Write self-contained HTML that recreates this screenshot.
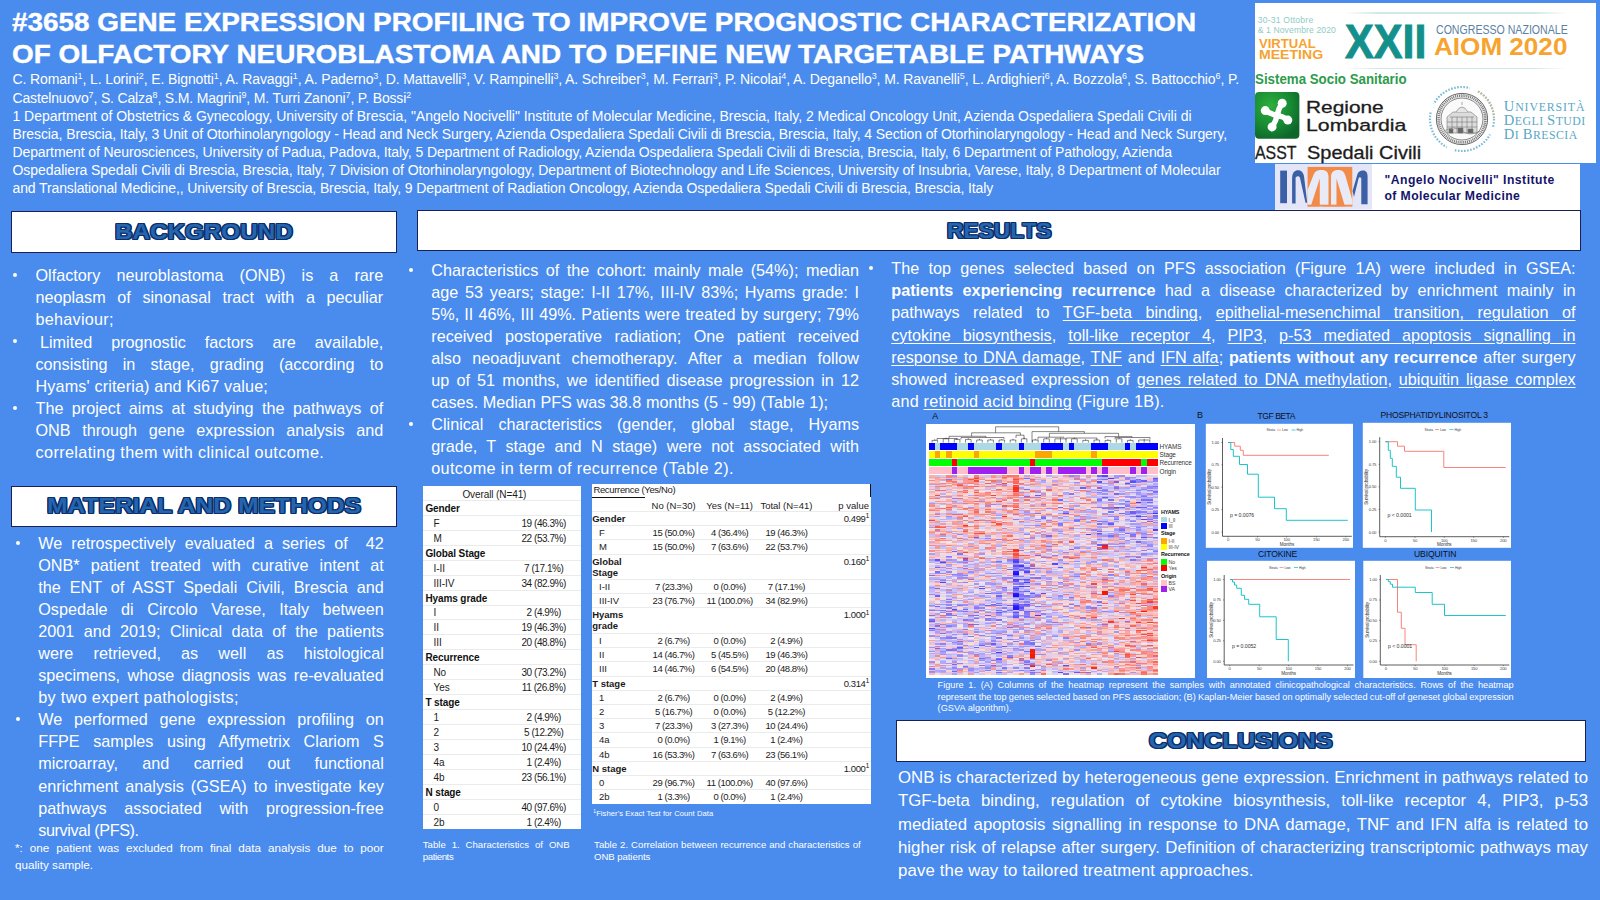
<!DOCTYPE html>
<html><head><meta charset="utf-8"><title>Poster 3658</title>
<style>
html,body{margin:0;padding:0}
body{width:1600px;height:900px;overflow:hidden;background:#4a8bee;position:relative;font-family:"Liberation Sans",sans-serif}
.t{position:absolute;white-space:nowrap;color:#fff}
.t sup{font-size:64%;vertical-align:baseline;position:relative;top:-0.6em;line-height:0}
.bx{position:absolute;background:#fff;border:1.5px solid #1b1f55;box-sizing:border-box}
.bu{position:absolute;width:4px;height:4px;border-radius:2px;background:#fff}
.a{position:absolute}
u{text-decoration-thickness:1px;text-underline-offset:2px}
</style></head>
<body>
<div class="a" style="left:1255px;top:3px;width:341.3px;height:159.8px;background:#fff"></div>
<div class="a" style="left:1274.8px;top:164.2px;width:305.2px;height:47px;background:#fff"></div>
<svg class="a" style="left:1274.8px;top:164.2px" width="97.2" height="45.6" viewBox="0 0 97.2 45.6"><rect width="97.2" height="45.6" fill="#e4e6f8"/><rect x="5.2" y="6.6" width="6.8" height="32.6" fill="#3b60a6"/><path d="M17.1 39.4V14.5C17.1 8 20 6.2 23 6.2C26.5 6.2 28.2 8.5 29 12L32.2 38.8L30.5 38.8L25 14C24.4 12 22.3 11.8 20.6 13.6V39.4Z" fill="#3b60a6"/><rect x="32.6" y="2.9" width="44.7" height="39.6" fill="#f28a48"/><path d="M32.6 26L38.5 11C40 7 42.5 5.9 46.5 5.9C51.5 5.9 53.5 8.5 53.5 13V41.5L50 41.5Q46 44 42 41.5L44.8 41.5L44.8 14.5L36 41.5L32.6 41.5Z" fill="#e9eaf7"/><path d="M56 41.5V13C56 8.5 58.5 5.9 63 5.9C67.5 5.9 69.5 8 70.5 12L77.3 36V42.5L70 42.5L61.5 14.5L61.5 41.5Z" fill="#e9eaf7"/><rect x="32.6" y="40.7" width="44.7" height="1.8" fill="#f28a48"/><path d="M77.6 27L82.2 11C83.3 7.5 85.5 6.6 88 6.6C91.5 6.6 92.6 9 92.6 13V40.3H86.3V14.5C85.5 12.6 84.2 12.8 83.6 14.5L79 33Z" fill="#3b60a6"/></svg>
<div class="a" style="left:1345px;top:12.4px;width:222px;height:1.6px;background:linear-gradient(90deg,#fff,#cfe9e6 15%,#cfe9e6 85%,#fff)"></div>
<div class="a" style="left:1345px;top:67.8px;width:222px;height:1.6px;background:linear-gradient(90deg,#fff,#cfe9e6 15%,#cfe9e6 85%,#fff)"></div>
<svg class="a" style="left:1255.4px;top:92.3px" width="44.4" height="46.8" viewBox="0 0 44.4 46.8"><defs><radialGradient id="rg" cx="35%" cy="30%" r="75%"><stop offset="0" stop-color="#2fae3e"/><stop offset="0.6" stop-color="#188a33"/><stop offset="1" stop-color="#0d672b"/></radialGradient></defs><rect width="44.4" height="46.8" rx="4" fill="url(#rg)"/><g stroke="#fff" stroke-width="5.4" stroke-linecap="round" fill="none"><path d="M22.2 23.6Q23 17 27.2 11.3"/><path d="M22.2 23.6Q16 22 10.3 18.6"/><path d="M22.2 23.6Q28 24 32.8 28.1"/><path d="M22.2 23.6Q21 29 17.1 34.9"/></g><g fill="#fff"><circle cx="27.2" cy="11.3" r="4.5"/><circle cx="10.3" cy="18.6" r="4.5"/><circle cx="32.8" cy="28.1" r="4.5"/><circle cx="17.1" cy="34.9" r="4.5"/><circle cx="22.2" cy="23.6" r="3.8"/></g></svg>
<svg class="a" style="left:1425.5px;top:82.9px" width="72" height="72" viewBox="-36 -36 72 72"><circle r="32" fill="none" stroke="#7bbbd8" stroke-width="2.2" stroke-dasharray="1.6 1.5"/><circle r="32" fill="none" stroke="#fff" stroke-width="3" stroke-dasharray="8 42" transform="rotate(-75)"/><circle r="32" fill="none" stroke="#c9b98f" stroke-width="2" stroke-dasharray="1.5 1.6 1.5 1.6 1.5 1.6 1.5 1.6 1.5 1.6 1.5 1.6 1.5 1.6 1.5 1.6 1.5 1.6 1.5 1.6 1.5 200" transform="rotate(-60)"/><circle r="25.6" fill="#f4f4f4" stroke="#666" stroke-width="1"/><circle r="23.4" fill="none" stroke="#777" stroke-width="2.6" stroke-dasharray="1.0 0.9"/><circle r="21" fill="#fafafa" stroke="#555" stroke-width="0.7"/><g stroke="#777" stroke-width="0.6" fill="none"><path d="M-15 14L-15 -2L-9 -7L9 -7L15 -2L15 14Z" fill="#dcdcdc"/><path d="M-6 -7Q0 -17 6 -7" fill="#e6e6e6"/><path d="M0 -17V-14"/><path d="M-15 3H15M-15 8H15M-10 -2V14M-5 -2V14M0 -2V14M5 -2V14M10 -2V14"/><path d="M-18 12Q-8 6 0 12T18 12" /><path d="M-12 -2H12"/><path d="M-13 10h4v4h-4zM-4 9h5v5h-5zM6 10h5v4h-5z" fill="#666"/></g></svg>
<div class="bx" style="left:11px;top:210.5px;width:386px;height:42.0px"></div>
<div class="bx" style="left:11px;top:486px;width:386px;height:40.5px"></div>
<div class="bx" style="left:417px;top:210px;width:1163.5px;height:41px"></div>
<div class="bx" style="left:895.5px;top:720px;width:690.0px;height:41.5px"></div>
<div class="bu" style="left:13.00px;top:272.99px"></div>
<div class="bu" style="left:13.00px;top:339.47px"></div>
<div class="bu" style="left:13.00px;top:405.95px"></div>
<div class="bu" style="left:16.00px;top:541.14px"></div>
<div class="bu" style="left:16.00px;top:717.30px"></div>
<div class="bu" style="left:408.75px;top:267.99px"></div>
<div class="bu" style="left:408.75px;top:421.57px"></div>
<div class="bu" style="left:868.75px;top:265.99px"></div>
<div class="a" style="left:422.6px;top:485.6px;width:158.1px;height:343.4px;background:#fff"></div>
<div class="a" style="left:422.6px;top:500.03px;width:158.1px;height:1px;background:#ebebeb"></div>
<div class="a" style="left:422.6px;top:514.96px;width:158.1px;height:1px;background:#ebebeb"></div>
<div class="a" style="left:422.6px;top:529.89px;width:158.1px;height:1px;background:#ebebeb"></div>
<div class="a" style="left:422.6px;top:544.82px;width:158.1px;height:1px;background:#ebebeb"></div>
<div class="a" style="left:422.6px;top:559.75px;width:158.1px;height:1px;background:#ebebeb"></div>
<div class="a" style="left:422.6px;top:574.68px;width:158.1px;height:1px;background:#ebebeb"></div>
<div class="a" style="left:422.6px;top:589.61px;width:158.1px;height:1px;background:#ebebeb"></div>
<div class="a" style="left:422.6px;top:604.54px;width:158.1px;height:1px;background:#ebebeb"></div>
<div class="a" style="left:422.6px;top:619.47px;width:158.1px;height:1px;background:#ebebeb"></div>
<div class="a" style="left:422.6px;top:634.40px;width:158.1px;height:1px;background:#ebebeb"></div>
<div class="a" style="left:422.6px;top:649.33px;width:158.1px;height:1px;background:#ebebeb"></div>
<div class="a" style="left:422.6px;top:664.27px;width:158.1px;height:1px;background:#ebebeb"></div>
<div class="a" style="left:422.6px;top:679.20px;width:158.1px;height:1px;background:#ebebeb"></div>
<div class="a" style="left:422.6px;top:694.13px;width:158.1px;height:1px;background:#ebebeb"></div>
<div class="a" style="left:422.6px;top:709.06px;width:158.1px;height:1px;background:#ebebeb"></div>
<div class="a" style="left:422.6px;top:723.99px;width:158.1px;height:1px;background:#ebebeb"></div>
<div class="a" style="left:422.6px;top:738.92px;width:158.1px;height:1px;background:#ebebeb"></div>
<div class="a" style="left:422.6px;top:753.85px;width:158.1px;height:1px;background:#ebebeb"></div>
<div class="a" style="left:422.6px;top:768.78px;width:158.1px;height:1px;background:#ebebeb"></div>
<div class="a" style="left:422.6px;top:783.71px;width:158.1px;height:1px;background:#ebebeb"></div>
<div class="a" style="left:422.6px;top:798.64px;width:158.1px;height:1px;background:#ebebeb"></div>
<div class="a" style="left:422.6px;top:813.57px;width:158.1px;height:1px;background:#ebebeb"></div>
<div class="a" style="left:592.0px;top:484.0px;width:278.6px;height:320.0px;background:#fff"></div>
<div class="a" style="left:592.0px;top:496.8px;width:53.4px;height:1.2px;background:#111"></div>
<div class="a" style="left:869.5px;top:484px;width:1.1px;height:13px;background:#111"></div>
<div class="a" style="left:592.0px;top:510.90px;width:278.6px;height:1px;background:#ebebeb"></div>
<div class="a" style="left:592.0px;top:525.10px;width:278.6px;height:1px;background:#ebebeb"></div>
<div class="a" style="left:592.0px;top:539.30px;width:278.6px;height:1px;background:#ebebeb"></div>
<div class="a" style="left:592.0px;top:553.50px;width:278.6px;height:1px;background:#ebebeb"></div>
<div class="a" style="left:592.0px;top:579.00px;width:278.6px;height:1px;background:#ebebeb"></div>
<div class="a" style="left:592.0px;top:593.20px;width:278.6px;height:1px;background:#ebebeb"></div>
<div class="a" style="left:592.0px;top:607.40px;width:278.6px;height:1px;background:#ebebeb"></div>
<div class="a" style="left:592.0px;top:632.90px;width:278.6px;height:1px;background:#ebebeb"></div>
<div class="a" style="left:592.0px;top:647.10px;width:278.6px;height:1px;background:#ebebeb"></div>
<div class="a" style="left:592.0px;top:661.30px;width:278.6px;height:1px;background:#ebebeb"></div>
<div class="a" style="left:592.0px;top:675.50px;width:278.6px;height:1px;background:#ebebeb"></div>
<div class="a" style="left:592.0px;top:689.70px;width:278.6px;height:1px;background:#ebebeb"></div>
<div class="a" style="left:592.0px;top:703.90px;width:278.6px;height:1px;background:#ebebeb"></div>
<div class="a" style="left:592.0px;top:718.10px;width:278.6px;height:1px;background:#ebebeb"></div>
<div class="a" style="left:592.0px;top:732.30px;width:278.6px;height:1px;background:#ebebeb"></div>
<div class="a" style="left:592.0px;top:746.50px;width:278.6px;height:1px;background:#ebebeb"></div>
<div class="a" style="left:592.0px;top:760.70px;width:278.6px;height:1px;background:#ebebeb"></div>
<div class="a" style="left:592.0px;top:774.90px;width:278.6px;height:1px;background:#ebebeb"></div>
<div class="a" style="left:592.0px;top:789.10px;width:278.6px;height:1px;background:#ebebeb"></div>
<div class="a" style="left:926px;top:424.2px;width:269px;height:253.6px;background:#fff"></div>
<svg class="a" style="left:0;top:0" width="1600" height="900" viewBox="0 0 1600 900" shape-rendering="crispEdges"><rect x="929.20" y="442.8" width="5.64" height="7.4" fill="#0000ff"/><rect x="934.79" y="442.8" width="5.64" height="7.4" fill="#add8e6"/><rect x="940.37" y="442.8" width="16.81" height="7.4" fill="#0000ff"/><rect x="957.13" y="442.8" width="11.22" height="7.4" fill="#add8e6"/><rect x="968.30" y="442.8" width="5.64" height="7.4" fill="#0000ff"/><rect x="973.88" y="442.8" width="22.39" height="7.4" fill="#add8e6"/><rect x="996.22" y="442.8" width="5.64" height="7.4" fill="#0000ff"/><rect x="1001.81" y="442.8" width="16.81" height="7.4" fill="#add8e6"/><rect x="1018.57" y="442.8" width="5.64" height="7.4" fill="#0000ff"/><rect x="1024.15" y="442.8" width="16.81" height="7.4" fill="#add8e6"/><rect x="1040.91" y="442.8" width="22.39" height="7.4" fill="#0000ff"/><rect x="1063.25" y="442.8" width="5.64" height="7.4" fill="#add8e6"/><rect x="1068.83" y="442.8" width="5.64" height="7.4" fill="#0000ff"/><rect x="1074.42" y="442.8" width="16.81" height="7.4" fill="#add8e6"/><rect x="1091.18" y="442.8" width="16.81" height="7.4" fill="#0000ff"/><rect x="1107.93" y="442.8" width="16.81" height="7.4" fill="#add8e6"/><rect x="1124.69" y="442.8" width="5.64" height="7.4" fill="#0000ff"/><rect x="1130.27" y="442.8" width="5.64" height="7.4" fill="#add8e6"/><rect x="1135.86" y="442.8" width="22.39" height="7.4" fill="#0000ff"/><rect x="929.20" y="451.1" width="5.64" height="7.1" fill="#ffff00"/><rect x="934.79" y="451.1" width="5.64" height="7.1" fill="#ffa500"/><rect x="940.37" y="451.1" width="5.64" height="7.1" fill="#ffff00"/><rect x="945.96" y="451.1" width="5.64" height="7.1" fill="#ffa500"/><rect x="951.54" y="451.1" width="22.39" height="7.1" fill="#ffff00"/><rect x="973.88" y="451.1" width="5.64" height="7.1" fill="#ffa500"/><rect x="979.47" y="451.1" width="55.90" height="7.1" fill="#ffff00"/><rect x="1035.32" y="451.1" width="16.81" height="7.1" fill="#ffa500"/><rect x="1052.08" y="451.1" width="39.15" height="7.1" fill="#ffff00"/><rect x="1091.18" y="451.1" width="5.64" height="7.1" fill="#ffa500"/><rect x="1096.76" y="451.1" width="61.49" height="7.1" fill="#ffff00"/><rect x="929.20" y="459.1" width="22.39" height="7.1" fill="#00ff00"/><rect x="951.54" y="459.1" width="5.64" height="7.1" fill="#ff0000"/><rect x="957.13" y="459.1" width="72.66" height="7.1" fill="#00ff00"/><rect x="1029.74" y="459.1" width="5.64" height="7.1" fill="#ff0000"/><rect x="1035.32" y="459.1" width="67.07" height="7.1" fill="#00ff00"/><rect x="1102.35" y="459.1" width="39.15" height="7.1" fill="#ff0000"/><rect x="1141.44" y="459.1" width="5.64" height="7.1" fill="#00ff00"/><rect x="1147.03" y="459.1" width="11.22" height="7.1" fill="#ff0000"/><rect x="929.20" y="466.9" width="22.39" height="7.0" fill="#ffc0cb"/><rect x="951.54" y="466.9" width="5.64" height="7.0" fill="#a020f0"/><rect x="957.13" y="466.9" width="11.22" height="7.0" fill="#ffc0cb"/><rect x="968.30" y="466.9" width="39.15" height="7.0" fill="#a020f0"/><rect x="1007.40" y="466.9" width="11.22" height="7.0" fill="#ffc0cb"/><rect x="1018.57" y="466.9" width="5.64" height="7.0" fill="#a020f0"/><rect x="1024.15" y="466.9" width="5.64" height="7.0" fill="#ffc0cb"/><rect x="1029.74" y="466.9" width="11.22" height="7.0" fill="#a020f0"/><rect x="1040.91" y="466.9" width="5.64" height="7.0" fill="#ffc0cb"/><rect x="1046.49" y="466.9" width="5.64" height="7.0" fill="#a020f0"/><rect x="1052.08" y="466.9" width="5.64" height="7.0" fill="#ffc0cb"/><rect x="1057.66" y="466.9" width="27.98" height="7.0" fill="#a020f0"/><rect x="1085.59" y="466.9" width="5.64" height="7.0" fill="#ffc0cb"/><rect x="1091.18" y="466.9" width="5.64" height="7.0" fill="#a020f0"/><rect x="1096.76" y="466.9" width="5.64" height="7.0" fill="#ffc0cb"/><rect x="1102.35" y="466.9" width="5.64" height="7.0" fill="#a020f0"/><rect x="1107.93" y="466.9" width="22.39" height="7.0" fill="#ffc0cb"/><rect x="1130.27" y="466.9" width="5.64" height="7.0" fill="#a020f0"/><rect x="1135.86" y="466.9" width="5.64" height="7.0" fill="#ffc0cb"/><rect x="1141.44" y="466.9" width="5.64" height="7.0" fill="#a020f0"/><rect x="1147.03" y="466.9" width="11.22" height="7.0" fill="#ffc0cb"/><g transform="translate(929.2,475.5) scale(5.5854,1.1988) translate(0,.5)" fill="none" stroke-width="1.02"><path stroke="#f8b0a8" d="M0 0h1M12 0h1M4 2h1M4 6h1M28 6h1M28 8h1M12 9h1M25 11h1M0 13h1M8 13h1M18 14h1M20 14h1M14 17h1M10 18h1M16 19h1M24 19h1M3 20h1M22 22h1M36 22h1M3 25h1M33 28h1M25 29h1M15 30h1M19 30h1M21 31h1M0 32h1M7 32h1M9 33h1M13 33h1M39 37h1M27 40h1M20 41h1M4 43h1M6 43h1M4 44h1M18 44h1M30 44h1M14 45h1M39 46h1M7 47h1M1 49h1M10 49h1M14 49h1M7 50h1M39 50h1M24 52h1M22 53h1M19 54h1M4 55h1M12 55h1M1 56h1M20 57h1M25 58h1M13 60h1M21 60h1M3 61h1M7 61h1M28 62h1M1 64h1M7 64h1M30 64h1M16 67h1M26 67h1M24 69h1M34 70h1M27 73h1M4 74h1M24 74h1M30 76h1M38 78h1M40 81h1M8 82h1M30 89h1M37 89h1M6 93h1M29 94h1M33 94h1M26 95h1M25 99h1M19 105h1M18 107h1M22 108h1M27 113h1M28 113h1M30 115h1M40 116h1M28 117h1M38 122h1M36 124h1M39 125h1M24 126h1M16 131h1M15 133h1M33 133h1M5 137h1M23 141h1M11 143h1M23 143h1M27 144h1M35 147h1M4 151h1M7 151h1M35 153h1M16 155h1M24 156h1M32 158h1M22 159h1M26 159h1"/><path stroke="#c8c0f8" d="M1 0h1M10 0h1M30 1h1M24 5h1M25 5h1M26 7h1M19 9h1M10 10h1M11 10h1M36 10h1M37 10h1M35 11h1M40 11h1M29 13h1M37 13h1M22 15h1M30 17h1M30 18h1M9 19h1M5 20h1M16 20h1M31 21h1M34 21h1M40 21h1M0 22h1M6 22h1M12 22h1M30 23h1M19 24h1M37 25h1M10 26h1M28 29h1M4 30h1M39 30h1M2 32h1M27 32h1M29 33h1M32 33h1M16 34h1M35 34h1M18 35h1M24 36h1M17 37h1M30 37h1M35 38h1M19 40h1M35 40h1M38 41h1M9 42h1M3 44h1M38 45h1M28 47h1M6 49h1M27 49h1M0 50h1M19 50h1M35 50h1M1 51h1M16 52h1M38 52h1M10 53h1M18 53h1M24 54h1M30 54h1M31 54h1M8 55h1M33 55h1M36 55h1M0 56h1M12 56h1M17 57h1M26 57h1M22 58h1M34 58h1M37 58h1M4 59h1M6 59h1M23 59h1M2 60h1M4 60h1M40 60h1M11 61h1M20 61h1M34 62h1M35 62h1M22 63h1M25 64h1M1 65h1M18 65h1M21 65h1M32 65h1M37 65h1M5 66h1M6 66h1M29 66h1M13 67h1M14 67h1M30 67h1M36 68h1M12 70h1M28 70h1M29 70h1M35 70h1M10 71h1M25 74h1M10 75h1M17 75h1M26 75h1M32 75h1M19 76h1M33 76h1M5 77h1M4 78h1M5 78h1M22 78h1M6 79h1M10 80h1M23 80h1M33 81h1M25 82h1M38 82h1M16 83h1M22 83h1M8 84h1M12 84h1M16 85h1M26 85h1M8 87h1M0 88h1M38 89h1M35 90h1M16 91h1M5 92h1M4 93h1M11 93h1M8 94h1M4 95h1M7 95h1M14 95h1M16 95h1M20 95h1M4 96h1M0 97h1M21 97h1M4 98h1M23 98h1M35 99h1M10 100h1M25 100h1M22 101h1M11 102h1M10 103h1M11 103h1M13 103h1M15 103h1M21 104h1M26 104h1M2 105h1M12 105h1M10 106h1M0 107h1M32 109h1M33 109h1M4 110h1M30 110h1M12 111h1M27 111h1M34 111h1M11 112h1M2 113h1M14 113h1M6 114h1M5 115h1M22 115h1M35 115h1M38 117h1M0 119h1M18 119h1M17 120h1M18 120h1M18 121h1M25 121h1M4 123h1M24 123h1M26 123h1M9 124h1M10 125h1M22 125h1M30 125h1M6 126h1M8 127h1M13 128h1M40 128h1M15 129h1M17 131h1M25 131h1M12 132h1M21 132h1M22 132h1M8 133h1M32 133h1M23 134h1M1 135h1M17 135h1M3 136h1M9 136h1M13 136h1M26 136h1M36 136h1M9 137h1M30 137h1M1 138h1M28 138h1M0 139h1M11 139h1M28 139h1M31 139h1M14 141h1M16 141h1M17 141h1M23 145h1M1 146h1M30 146h1M1 147h1M15 147h1M17 147h1M21 147h1M27 148h1M36 148h1M1 149h1M4 149h1M23 149h1M0 150h1M3 150h1M0 151h1M20 152h1M26 152h1M38 152h1M5 153h1M34 153h1M28 154h1M18 155h1M7 156h1M28 156h1M0 157h1M10 157h1M30 157h1M4 158h1M13 158h1M16 158h1M20 158h1M23 159h1M37 159h1M26 160h1M9 161h1M10 161h1M8 162h1M14 162h1M15 163h1M18 163h1M24 163h1M32 163h1M4 164h1M22 164h1"/><path stroke="#f8c0c0" d="M2 0h1M9 0h1M29 0h1M10 1h1M16 1h1M5 2h1M23 2h1M27 2h1M39 2h1M23 3h1M25 3h1M39 3h1M4 4h1M16 4h1M31 4h1M39 4h1M1 5h1M5 5h1M21 7h1M9 8h1M25 9h1M9 11h1M3 12h1M32 12h1M3 13h1M14 14h1M22 14h1M1 15h1M5 15h1M29 15h1M6 17h1M19 17h1M25 17h1M23 18h1M11 19h1M28 19h1M4 20h1M25 20h1M11 22h1M13 22h1M14 22h1M11 23h1M26 24h1M17 25h1M21 26h1M0 27h1M23 27h1M27 27h1M18 28h1M1 30h1M7 30h1M9 31h1M26 31h1M16 32h1M23 32h1M26 32h1M29 32h1M0 33h1M19 33h1M23 36h1M25 36h1M1 37h1M13 37h1M19 37h1M8 38h1M12 39h1M22 39h1M0 40h1M8 40h1M16 41h1M21 41h1M12 42h1M24 42h1M28 42h1M14 43h1M15 43h1M18 43h1M15 44h1M17 44h1M24 44h1M7 45h1M15 45h1M19 45h1M13 46h1M21 47h1M22 48h1M24 48h1M3 49h1M24 50h1M31 51h1M8 54h1M11 55h1M19 56h1M6 57h1M14 58h1M17 59h1M38 60h1M12 61h1M7 63h1M12 64h1M14 64h1M32 64h1M0 66h1M27 66h1M2 70h1M38 70h1M24 71h1M3 73h1M25 73h1M34 74h1M0 78h1M10 78h1M18 78h1M19 78h1M33 78h1M35 78h1M0 79h1M36 80h1M3 81h1M14 81h1M0 82h1M8 86h1M18 86h1M0 87h1M37 87h1M18 89h1M29 89h1M4 91h1M35 91h1M36 91h1M1 93h1M5 93h1M7 93h1M37 94h1M1 95h1M6 95h1M31 95h1M33 95h1M5 96h1M24 96h1M25 96h1M28 96h1M30 96h1M20 97h1M26 97h1M28 98h1M35 98h1M26 101h1M39 101h1M13 102h1M33 102h1M36 102h1M34 104h1M37 104h1M36 105h1M3 106h1M8 106h1M14 106h1M34 107h1M27 108h1M7 109h1M11 110h1M26 110h1M1 111h1M36 111h1M8 112h1M23 114h1M39 114h1M10 115h1M18 115h1M34 115h1M40 115h1M11 116h1M18 116h1M12 117h1M36 117h1M39 117h1M17 119h1M38 119h1M22 120h1M35 120h1M38 121h1M2 122h1M36 122h1M2 123h1M7 123h1M22 123h1M33 123h1M15 124h1M2 127h1M29 127h1M33 127h1M36 127h1M9 128h1M12 128h1M21 129h1M24 129h1M30 129h1M36 129h1M7 130h1M15 131h1M32 132h1M26 133h1M31 134h1M37 134h1M8 135h1M30 135h1M12 137h1M24 139h1M0 140h1M37 140h1M7 141h1M40 141h1M3 144h1M9 144h1M26 144h1M25 145h1M32 147h1M20 148h1M10 150h1M20 151h1M30 151h1M0 152h1M1 152h1M11 152h1M14 153h1M8 154h1M20 154h1M15 156h1M20 156h1M33 156h1M39 157h1M17 158h1M28 158h1M34 159h1M38 159h1M40 159h1M23 161h1M26 161h1M24 162h1M35 163h1M3 164h1M20 164h1"/><path stroke="#f88880" d="M3 0h1M11 1h1M15 1h1M0 4h1M6 6h1M1 7h1M4 7h1M8 7h1M13 7h1M22 8h1M18 12h1M5 16h1M14 16h1M3 17h1M14 18h1M15 18h1M0 19h1M15 21h1M10 22h1M10 23h1M0 25h1M4 25h1M14 25h1M18 25h1M1 27h1M7 27h1M35 28h1M8 29h1M14 30h1M10 32h1M17 32h1M22 34h1M21 39h1M2 42h1M7 42h1M21 42h1M25 43h1M19 47h1M7 51h1M17 52h1M10 54h1M11 54h1M13 54h1M16 54h1M10 56h1M0 58h1M18 59h1M21 62h1M13 63h1M29 68h1M5 76h1M40 76h1M13 77h1M29 77h1M40 82h1M33 83h1M10 84h1M31 85h1M18 88h1M14 89h1M27 89h1M25 90h1M1 91h1M32 92h1M40 92h1M23 93h1M31 93h1M5 94h1M36 97h1M34 99h1M25 102h1M28 105h1M29 112h1M29 113h1M35 114h1M36 115h1M25 116h1M28 116h1M38 120h1M39 120h1M24 122h1M33 122h1M11 125h1M40 125h1M16 126h1M30 130h1M30 132h1M18 133h1M28 134h1M38 134h1M27 135h1M30 136h1M31 142h1M38 142h1M40 143h1M39 144h1M40 144h1M33 145h1M36 145h1M37 145h1M34 146h1M38 146h1M38 147h1M23 148h1M31 148h1M37 149h1M1 150h1M38 151h1M11 156h1M36 158h1M39 159h1M40 161h1M30 162h1M40 163h1M40 165h1"/><path stroke="#a098f8" d="M4 0h1M26 0h1M20 4h1M35 7h1M40 10h1M19 13h1M19 14h1M34 15h1M37 15h1M35 18h1M37 18h1M30 21h1M34 24h1M7 26h1M28 28h1M32 28h1M39 28h1M17 30h1M11 31h1M35 31h1M37 31h1M1 34h1M23 35h1M33 35h1M35 36h1M38 42h1M0 43h1M34 43h1M35 43h1M5 44h1M33 45h1M23 48h1M32 48h1M34 49h1M38 49h1M31 50h1M29 55h1M38 56h1M7 59h1M33 59h1M38 59h1M40 62h1M27 63h1M36 63h1M9 65h1M26 66h1M20 67h1M12 68h1M0 70h1M14 71h1M20 71h1M3 74h1M20 77h1M8 79h1M26 82h1M9 83h1M20 83h1M1 86h1M2 86h1M13 86h1M17 88h1M8 90h1M21 91h1M31 92h1M0 93h1M3 95h1M9 100h1M18 100h1M4 101h1M12 102h1M17 103h1M13 104h1M2 107h1M5 107h1M20 107h1M4 109h1M20 109h1M37 111h1M15 113h1M13 121h1M10 123h1M17 123h1M23 124h1M4 125h1M16 127h1M18 127h1M2 128h1M8 128h1M11 129h1M3 130h1M13 130h1M33 130h1M6 131h1M11 131h1M1 134h1M5 136h1M19 136h1M9 140h1M14 140h1M17 142h1M6 147h1M30 147h1M5 149h1M12 154h1M4 155h1M3 156h1M11 159h1M20 159h1M6 160h1M8 164h1M36 164h1"/><path stroke="#f8d0d0" d="M5 0h1M16 0h1M40 0h1M2 2h1M11 2h1M14 2h1M34 2h1M22 3h1M5 4h1M14 4h1M19 4h1M28 4h1M0 5h1M18 5h1M29 5h1M9 6h1M21 6h1M29 6h1M10 7h1M0 8h1M33 8h1M2 10h1M13 11h1M26 11h1M2 14h1M23 14h1M6 15h1M10 17h1M12 17h1M17 19h1M33 19h1M8 20h1M10 20h1M36 20h1M5 21h1M26 21h1M28 21h1M1 24h1M14 24h1M23 24h1M31 24h1M7 25h1M12 25h1M27 25h1M28 25h1M4 27h1M30 27h1M2 28h1M29 28h1M31 29h1M34 29h1M35 29h1M39 29h1M0 30h1M20 30h1M10 31h1M20 31h1M14 32h1M7 33h1M1 35h1M8 36h1M14 37h1M19 39h1M20 39h1M30 39h1M10 40h1M18 40h1M29 40h1M17 42h1M7 43h1M2 44h1M0 45h1M10 45h1M1 47h1M2 47h1M5 47h1M20 48h1M4 49h1M22 49h1M27 50h1M28 50h1M5 51h1M6 51h1M22 51h1M28 51h1M0 52h1M14 52h1M19 52h1M20 52h1M13 56h1M17 56h1M22 56h1M30 56h1M3 57h1M27 58h1M15 60h1M18 60h1M13 62h1M10 63h1M4 64h1M16 64h1M19 64h1M36 64h1M2 66h1M21 66h1M5 67h1M23 67h1M31 67h1M19 69h1M28 69h1M34 71h1M35 72h1M21 73h1M29 73h1M9 74h1M14 74h1M19 75h1M30 75h1M3 76h1M25 76h1M31 77h1M13 78h1M20 81h1M19 82h1M36 83h1M1 84h1M9 84h1M13 84h1M28 86h1M34 86h1M14 87h1M33 87h1M35 87h1M38 87h1M6 88h1M16 88h1M25 88h1M33 88h1M26 89h1M1 90h1M2 90h1M4 90h1M5 90h1M6 91h1M14 91h1M31 91h1M40 91h1M13 92h1M20 92h1M10 94h1M20 94h1M12 95h1M9 96h1M11 96h1M24 98h1M27 98h1M26 99h1M28 99h1M40 99h1M1 101h1M35 101h1M26 103h1M38 103h1M9 104h1M22 105h1M24 105h1M1 106h1M6 106h1M35 107h1M34 108h1M12 109h1M22 110h1M32 110h1M3 111h1M5 111h1M23 112h1M20 113h1M28 115h1M32 115h1M40 117h1M28 118h1M2 119h1M14 119h1M7 122h1M26 122h1M28 122h1M16 123h1M29 123h1M27 124h1M32 124h1M0 126h1M10 126h1M11 126h1M20 126h1M36 126h1M6 127h1M29 128h1M38 128h1M39 129h1M29 130h1M38 130h1M40 130h1M33 132h1M10 133h1M40 134h1M28 135h1M38 136h1M23 137h1M0 138h1M13 138h1M12 139h1M6 140h1M22 140h1M25 140h1M27 140h1M32 140h1M10 141h1M15 141h1M22 142h1M33 142h1M3 143h1M6 143h1M10 143h1M13 143h1M6 145h1M13 145h1M36 146h1M11 147h1M13 147h1M36 147h1M22 148h1M25 148h1M21 149h1M2 150h1M22 150h1M38 150h1M8 151h1M13 152h1M17 152h1M34 152h1M35 152h1M32 153h1M1 156h1M27 156h1M7 157h1M8 157h1M35 159h1M36 159h1M12 160h1M32 160h1M40 160h1M14 161h1M37 161h1M31 162h1M3 163h1M33 163h1M11 164h1M39 164h1M15 165h1"/><path stroke="#f8b8b8" d="M6 0h1M32 1h1M3 2h1M20 2h1M13 3h1M24 4h1M3 5h1M38 6h1M4 8h1M19 8h1M0 9h1M18 9h1M35 9h1M4 10h1M4 12h1M8 15h1M12 15h1M3 16h1M12 16h1M18 19h1M19 19h1M7 20h1M9 22h1M21 22h1M19 23h1M32 23h1M1 26h1M20 28h1M3 30h1M13 30h1M2 31h1M11 32h1M33 32h1M25 35h1M27 37h1M40 38h1M5 41h1M11 42h1M25 42h1M10 43h1M10 44h1M23 44h1M2 45h1M16 46h1M16 49h1M37 49h1M29 50h1M29 51h1M1 52h1M21 52h1M32 52h1M33 52h1M2 53h1M6 54h1M21 54h1M1 55h1M2 56h1M15 56h1M23 56h1M26 56h1M28 57h1M24 58h1M33 61h1M2 62h1M7 62h1M25 63h1M2 64h1M23 64h1M11 65h1M27 65h1M34 65h1M1 67h1M17 67h1M29 67h1M39 67h1M18 68h1M27 68h1M5 69h1M9 71h1M37 71h1M31 72h1M21 74h1M29 74h1M32 74h1M20 75h1M40 75h1M1 78h1M27 79h1M34 79h1M6 80h1M20 80h1M30 81h1M8 83h1M21 83h1M40 83h1M27 84h1M30 85h1M9 86h1M19 86h1M29 86h1M11 87h1M22 89h1M37 90h1M19 91h1M3 93h1M18 93h1M26 93h1M38 94h1M27 96h1M1 98h1M27 99h1M14 100h1M11 101h1M21 103h1M32 103h1M7 105h1M35 105h1M13 106h1M30 106h1M7 108h1M20 108h1M23 108h1M24 108h1M5 109h1M9 113h1M31 114h1M4 115h1M39 115h1M19 117h1M33 117h1M31 119h1M39 119h1M40 119h1M1 120h1M39 121h1M25 122h1M37 123h1M35 124h1M2 125h1M26 129h1M29 129h1M25 130h1M5 131h1M31 131h1M37 131h1M25 132h1M24 133h1M9 134h1M15 134h1M29 134h1M35 135h1M37 136h1M22 137h1M38 138h1M21 139h1M23 139h1M24 140h1M26 140h1M24 141h1M6 142h1M20 142h1M26 143h1M28 143h1M34 143h1M38 145h1M19 146h1M28 146h1M31 146h1M16 148h1M17 149h1M31 149h1M15 150h1M20 150h1M25 150h1M40 152h1M8 153h1M20 153h1M26 153h1M15 154h1M37 154h1M19 155h1M29 155h1M37 155h1M39 156h1M31 157h1M32 157h1M26 158h1M2 159h1M25 159h1M27 159h1M21 160h1M6 161h1M32 161h1M35 161h1M33 162h1M38 162h1M32 164h1M0 165h1M36 165h1"/><path stroke="#e8e0f0" d="M7 0h1M20 1h1M22 2h1M37 2h1M21 3h1M33 3h1M25 4h1M14 6h1M3 7h1M8 10h1M9 10h1M12 10h1M29 10h1M0 12h1M20 13h1M36 13h1M25 14h1M11 15h1M18 15h1M6 16h1M16 17h1M22 17h1M5 18h1M26 18h1M2 19h1M26 19h1M40 19h1M14 20h1M13 21h1M27 21h1M15 22h1M27 22h1M18 23h1M21 24h1M24 24h1M40 24h1M9 25h1M34 25h1M11 26h1M22 26h1M24 26h1M28 26h1M4 28h1M14 28h1M21 28h1M37 28h1M5 29h1M36 29h1M5 30h1M6 30h1M31 30h1M33 30h1M34 30h1M32 31h1M14 33h1M38 33h1M7 34h1M12 34h1M14 34h1M17 34h1M6 35h1M12 36h1M2 37h1M16 37h1M28 37h1M38 38h1M6 39h1M34 40h1M4 41h1M18 42h1M13 43h1M21 43h1M22 43h1M23 43h1M26 43h1M36 43h1M39 43h1M1 44h1M14 44h1M19 44h1M31 44h1M20 45h1M26 45h1M11 46h1M12 46h1M21 46h1M27 46h1M28 46h1M25 48h1M39 48h1M11 51h1M15 51h1M19 51h1M22 52h1M39 52h1M15 54h1M36 54h1M38 54h1M7 55h1M18 56h1M20 56h1M25 57h1M9 58h1M29 58h1M32 58h1M33 58h1M3 59h1M13 59h1M23 60h1M24 60h1M1 61h1M27 61h1M17 62h1M32 62h1M0 64h1M2 65h1M4 65h1M22 65h1M3 66h1M9 66h1M11 66h1M2 67h1M19 68h1M38 68h1M39 68h1M2 69h1M18 69h1M20 69h1M23 69h1M11 70h1M25 70h1M8 71h1M13 71h1M21 72h1M26 72h1M34 72h1M39 72h1M17 74h1M37 75h1M24 76h1M26 77h1M30 77h1M4 79h1M23 79h1M25 79h1M4 80h1M27 80h1M9 81h1M29 81h1M32 81h1M14 82h1M16 82h1M4 85h1M26 86h1M37 86h1M22 87h1M7 89h1M20 89h1M9 90h1M13 90h1M15 91h1M23 91h1M10 92h1M36 92h1M2 93h1M9 93h1M32 93h1M7 94h1M14 94h1M27 94h1M8 95h1M8 97h1M30 97h1M21 98h1M21 99h1M35 100h1M6 102h1M18 102h1M24 102h1M26 102h1M19 104h1M4 105h1M25 105h1M21 106h1M19 107h1M19 108h1M25 108h1M14 109h1M10 110h1M2 111h1M24 112h1M1 113h1M24 113h1M34 113h1M1 114h1M9 114h1M2 115h1M24 116h1M31 116h1M22 117h1M27 117h1M16 118h1M24 119h1M8 120h1M20 120h1M20 121h1M23 121h1M26 121h1M40 121h1M1 122h1M19 122h1M28 123h1M12 125h1M17 125h1M18 125h1M32 125h1M15 127h1M32 127h1M28 128h1M36 130h1M9 131h1M0 132h1M26 132h1M2 134h1M5 134h1M22 135h1M32 135h1M1 136h1M23 136h1M19 137h1M30 138h1M22 139h1M11 142h1M2 143h1M14 143h1M39 143h1M8 146h1M23 146h1M27 146h1M40 146h1M25 149h1M26 149h1M27 149h1M17 150h1M37 150h1M12 151h1M6 152h1M23 152h1M2 153h1M14 154h1M34 154h1M5 155h1M15 155h1M14 156h1M16 157h1M23 157h1M0 158h1M15 158h1M3 159h1M31 159h1M18 160h1M25 160h1M34 160h1M25 162h1M29 162h1M10 163h1M21 163h1M30 164h1M33 164h1"/><path stroke="#f88078" d="M8 0h1M3 1h1M16 2h1M12 4h1M18 4h1M2 6h1M32 6h1M16 7h1M2 9h1M10 9h1M6 10h1M11 18h1M8 19h1M14 19h1M13 20h1M8 23h1M22 23h1M29 26h1M22 27h1M24 27h1M6 28h1M27 29h1M6 33h1M5 35h1M22 38h1M20 40h1M8 44h1M13 44h1M6 45h1M18 46h1M33 50h1M13 53h1M20 54h1M3 58h1M10 60h1M14 61h1M15 69h1M27 81h1M25 84h1M22 91h1M39 92h1M20 93h1M29 93h1M37 95h1M38 95h1M14 98h1M39 99h1M40 102h1M27 105h1M26 109h1M39 109h1M28 114h1M26 117h1M2 118h1M35 122h1M33 125h1M19 126h1M37 127h1M10 129h1M33 135h1M29 136h1M33 148h1M35 148h1M38 148h1M36 149h1M23 156h1M38 156h1M29 157h1M40 157h1M0 159h1M24 159h1M5 162h1M27 162h1M34 162h1M38 163h1"/><path stroke="#f89890" d="M11 0h1M24 0h1M28 0h1M4 1h1M19 1h1M22 1h1M2 3h1M8 3h1M6 4h1M3 8h1M26 8h1M37 8h1M7 10h1M19 12h1M28 12h1M6 13h1M17 14h1M35 14h1M10 16h1M20 16h1M22 16h1M34 17h1M7 21h1M2 23h1M7 23h1M20 23h1M28 23h1M29 23h1M37 23h1M0 24h1M3 24h1M8 24h1M15 24h1M25 25h1M32 25h1M5 26h1M19 27h1M13 28h1M13 29h1M19 29h1M11 30h1M8 32h1M18 32h1M24 32h1M16 33h1M20 33h1M5 34h1M39 34h1M11 35h1M27 35h1M11 37h1M1 38h1M7 38h1M11 38h1M4 40h1M40 41h1M20 42h1M32 42h1M34 42h1M4 46h1M8 46h1M9 47h1M8 50h1M13 52h1M1 53h1M5 54h1M11 58h1M1 59h1M1 60h1M19 60h1M1 62h1M33 62h1M11 63h1M20 63h1M28 63h1M3 64h1M19 65h1M8 67h1M17 68h1M10 69h1M13 69h1M17 69h1M25 71h1M6 73h1M10 76h1M9 78h1M6 81h1M39 81h1M28 82h1M30 82h1M1 83h1M14 83h1M28 83h1M7 85h1M24 85h1M34 87h1M34 89h1M36 89h1M10 93h1M35 94h1M36 96h1M35 97h1M33 98h1M29 99h1M33 100h1M27 103h1M35 110h1M23 111h1M38 111h1M35 112h1M37 115h1M36 118h1M28 119h1M29 119h1M33 119h1M37 121h1M27 123h1M31 123h1M1 124h1M21 125h1M21 126h1M30 126h1M38 126h1M31 127h1M35 129h1M6 130h1M19 131h1M18 135h1M38 135h1M35 136h1M2 137h1M40 138h1M10 139h1M25 139h1M34 139h1M36 139h1M29 140h1M22 141h1M32 144h1M39 147h1M2 151h1M32 151h1M18 153h1M22 153h1M27 153h1M22 155h1M39 155h1M1 157h1M25 161h1M34 161h1M34 163h1"/><path stroke="#f89088" d="M13 0h1M13 2h1M9 3h1M29 4h1M7 5h1M11 5h1M14 5h1M6 9h1M11 9h1M14 11h1M12 12h1M15 14h1M10 15h1M9 16h1M20 19h1M6 21h1M20 25h1M14 29h1M8 31h1M15 31h1M3 32h1M9 32h1M13 32h1M25 32h1M18 33h1M18 37h1M5 38h1M12 38h1M24 39h1M11 41h1M9 46h1M20 46h1M0 47h1M27 47h1M13 48h1M20 50h1M2 54h1M20 55h1M9 56h1M20 59h1M11 60h1M5 62h1M0 63h1M15 64h1M13 65h1M35 68h1M32 70h1M11 71h1M29 76h1M21 77h1M38 77h1M40 77h1M36 81h1M3 82h1M35 82h1M38 91h1M33 93h1M22 94h1M34 94h1M29 96h1M36 98h1M38 99h1M19 101h1M32 101h1M38 105h1M35 108h1M21 109h1M37 109h1M31 110h1M29 111h1M33 112h1M39 112h1M37 113h1M24 114h1M39 116h1M29 117h1M37 117h1M19 119h1M4 122h1M20 125h1M31 125h1M15 126h1M17 126h1M30 127h1M18 129h1M17 130h1M27 133h1M34 135h1M36 135h1M37 135h1M34 136h1M40 136h1M38 137h1M30 139h1M27 141h1M32 141h1M30 144h1M25 146h1M39 146h1M31 147h1M34 147h1M39 149h1M31 150h1M39 150h1M14 152h1M24 152h1M36 152h1M40 153h1M32 155h1M34 155h1M26 157h1M22 158h1M29 159h1M36 160h1M11 161h1M37 162h1M39 162h1"/><path stroke="#f87870" d="M14 0h1M15 0h1M15 2h1M10 4h1M15 4h1M4 5h1M16 6h1M27 12h1M15 15h1M27 19h1M15 20h1M28 20h1M6 23h1M36 23h1M10 25h1M15 25h1M3 28h1M10 30h1M21 32h1M9 37h1M10 37h1M13 39h1M8 42h1M37 47h1M2 52h1M14 54h1M29 56h1M27 64h1M15 67h1M37 67h1M25 68h1M39 70h1M29 79h1M27 82h1M31 87h1M32 87h1M28 93h1M37 98h1M27 101h1M39 104h1M34 106h1M38 106h1M39 111h1M36 119h1M7 125h1M21 127h1M38 127h1M40 129h1M35 133h1M39 136h1M16 140h1M8 150h1M37 156h1M35 157h1M37 160h1M20 162h1"/><path stroke="#b8a8f8" d="M17 0h1M40 7h1M36 8h1M40 12h1M7 16h1M38 18h1M30 22h1M35 23h1M38 28h1M29 29h1M3 42h1M16 45h1M38 46h1M17 48h1M4 51h1M12 59h1M35 63h1M30 70h1M12 77h1M17 78h1M38 83h1M3 84h1M29 84h1M34 84h1M30 86h1M18 90h1M21 93h1M4 97h1M33 101h1M25 103h1M2 104h1M18 104h1M7 113h1M21 120h1M15 123h1M1 131h1M2 136h1M33 140h1M5 142h1M14 142h1M9 149h1M13 149h1M7 154h1M2 156h1M13 157h1M14 157h1M17 163h1M31 163h1"/><path stroke="#f8b8b0" d="M18 0h1M17 1h1M1 4h1M17 5h1M12 6h1M20 8h1M14 10h1M20 11h1M24 11h1M13 12h1M11 14h1M4 16h1M10 21h1M16 23h1M8 25h1M9 27h1M1 28h1M11 28h1M10 29h1M20 32h1M33 33h1M14 35h1M30 35h1M28 36h1M3 38h1M9 39h1M1 40h1M6 40h1M0 42h1M21 49h1M25 50h1M13 51h1M7 53h1M14 53h1M15 55h1M11 57h1M1 66h1M7 68h1M35 74h1M36 76h1M28 77h1M33 79h1M5 80h1M24 80h1M31 82h1M4 89h1M39 90h1M24 93h1M35 93h1M37 93h1M21 94h1M20 99h1M4 100h1M30 101h1M38 101h1M1 102h1M32 102h1M36 109h1M20 110h1M33 111h1M27 112h1M0 115h1M9 115h1M22 118h1M15 121h1M27 125h1M29 125h1M23 127h1M40 127h1M26 130h1M7 131h1M35 134h1M8 137h1M24 138h1M31 138h1M37 138h1M13 139h1M11 144h1M4 146h1M32 150h1M21 152h1M4 153h1M13 153h1M40 158h1M30 161h1M0 162h1M6 163h1"/><path stroke="#e0d8f8" d="M19 0h1M17 3h1M7 8h1M27 14h1M33 14h1M26 16h1M28 16h1M30 16h1M31 16h1M23 19h1M24 20h1M3 22h1M24 22h1M28 22h1M40 22h1M40 23h1M13 24h1M39 24h1M29 25h1M39 26h1M32 29h1M23 30h1M40 32h1M1 33h1M15 35h1M40 36h1M15 37h1M6 38h1M9 38h1M14 38h1M23 38h1M2 39h1M21 40h1M3 41h1M33 41h1M10 42h1M1 48h1M19 49h1M3 51h1M9 51h1M35 51h1M7 52h1M17 53h1M40 53h1M26 55h1M0 59h1M9 60h1M37 60h1M29 61h1M4 62h1M10 62h1M9 63h1M24 63h1M29 63h1M3 65h1M36 65h1M10 66h1M13 66h1M37 66h1M27 67h1M40 68h1M37 69h1M7 72h1M10 73h1M5 75h1M22 75h1M25 75h1M4 77h1M22 77h1M35 77h1M12 78h1M10 79h1M26 79h1M31 79h1M24 81h1M11 82h1M12 82h1M2 84h1M7 84h1M35 84h1M40 84h1M12 87h1M20 88h1M39 89h1M0 90h1M26 90h1M9 91h1M14 92h1M22 93h1M1 96h1M6 97h1M37 97h1M23 99h1M38 100h1M14 103h1M0 104h1M7 104h1M5 105h1M13 105h1M26 105h1M30 107h1M18 109h1M7 111h1M31 112h1M3 117h1M12 119h1M21 119h1M35 119h1M24 124h1M38 124h1M24 125h1M11 127h1M3 128h1M22 128h1M37 128h1M22 129h1M9 132h1M5 133h1M13 134h1M17 134h1M4 136h1M32 136h1M32 137h1M35 137h1M18 138h1M27 139h1M13 140h1M1 141h1M3 141h1M4 141h1M33 141h1M23 142h1M25 147h1M34 148h1M34 150h1M22 151h1M15 153h1M23 154h1M26 154h1M9 155h1M14 155h1M26 156h1M30 156h1M23 158h1M30 158h1M13 159h1M19 159h1M1 160h1M16 161h1M16 163h1M30 163h1M8 165h1M17 165h1"/><path stroke="#f0e8e8" d="M20 0h1M29 2h1M9 4h1M34 8h1M4 11h1M20 12h1M24 13h1M26 13h1M33 13h1M34 19h1M35 19h1M33 21h1M25 22h1M17 24h1M2 25h1M20 26h1M22 32h1M13 38h1M26 48h1M34 48h1M17 50h1M2 51h1M37 52h1M3 55h1M31 55h1M35 58h1M24 59h1M12 63h1M17 63h1M12 66h1M40 74h1M35 76h1M33 77h1M23 78h1M30 79h1M0 80h1M38 80h1M24 83h1M9 89h1M30 92h1M10 95h1M17 99h1M37 99h1M13 101h1M5 103h1M29 103h1M4 108h1M38 109h1M10 112h1M0 118h1M3 121h1M12 121h1M39 123h1M13 124h1M5 125h1M25 125h1M16 129h1M21 133h1M8 134h1M7 135h1M10 135h1M0 136h1M19 140h1M35 146h1M5 148h1M10 148h1M28 149h1M31 152h1M37 153h1M5 160h1M22 162h1M21 164h1"/><path stroke="#b8b0f8" d="M21 0h1M6 1h1M9 1h1M36 2h1M5 3h1M19 3h1M29 3h1M36 3h1M2 4h1M34 4h1M35 5h1M11 6h1M26 6h1M37 7h1M38 7h1M29 8h1M32 8h1M40 8h1M31 9h1M1 10h1M29 11h1M37 11h1M29 12h1M33 12h1M28 14h1M2 15h1M35 15h1M38 15h1M31 17h1M1 18h1M25 18h1M29 18h1M32 18h1M39 19h1M35 22h1M14 23h1M33 23h1M38 23h1M40 25h1M25 26h1M38 27h1M3 29h1M26 30h1M17 33h1M21 33h1M34 33h1M28 34h1M31 34h1M3 35h1M12 35h1M37 35h1M2 36h1M24 37h1M25 37h1M35 37h1M2 38h1M28 38h1M5 39h1M10 39h1M16 39h1M23 39h1M32 41h1M19 42h1M36 42h1M17 43h1M40 43h1M26 44h1M35 44h1M40 44h1M23 45h1M31 46h1M33 47h1M33 48h1M40 48h1M31 49h1M21 51h1M33 51h1M9 52h1M16 53h1M23 53h1M32 53h1M17 54h1M17 55h1M35 55h1M39 55h1M35 56h1M39 56h1M29 57h1M37 57h1M12 58h1M16 58h1M19 58h1M2 59h1M26 59h1M37 59h1M36 60h1M18 61h1M21 63h1M23 63h1M30 63h1M37 63h1M31 65h1M35 65h1M40 65h1M34 69h1M8 70h1M18 70h1M17 71h1M19 71h1M23 71h1M0 72h1M14 72h1M8 73h1M13 73h1M20 73h1M26 73h1M37 73h1M31 74h1M1 75h1M8 75h1M26 76h1M11 78h1M19 79h1M21 79h1M0 81h1M7 81h1M21 81h1M35 81h1M6 82h1M20 84h1M28 84h1M33 84h1M0 85h1M32 85h1M25 86h1M3 87h1M21 89h1M3 90h1M2 92h1M24 92h1M28 92h1M37 92h1M38 92h1M38 93h1M26 94h1M11 95h1M10 96h1M13 96h1M24 97h1M14 99h1M3 100h1M7 100h1M22 102h1M12 104h1M15 105h1M20 105h1M29 105h1M34 105h1M7 106h1M17 106h1M13 108h1M21 108h1M33 108h1M2 110h1M6 110h1M0 111h1M8 111h1M21 111h1M26 112h1M10 113h1M25 113h1M14 114h1M6 115h1M21 115h1M23 116h1M35 116h1M2 117h1M9 117h1M23 117h1M20 118h1M20 119h1M2 120h1M4 121h1M0 122h1M13 122h1M16 122h1M30 122h1M3 124h1M16 124h1M37 124h1M16 125h1M19 125h1M8 126h1M10 127h1M30 128h1M1 129h1M13 129h1M9 130h1M11 130h1M14 132h1M19 132h1M20 133h1M14 134h1M16 134h1M19 134h1M21 134h1M11 135h1M19 135h1M4 137h1M6 137h1M7 137h1M4 138h1M4 140h1M8 141h1M7 142h1M15 142h1M18 142h1M16 143h1M2 145h1M32 145h1M1 148h1M3 149h1M9 150h1M12 150h1M9 151h1M26 151h1M34 151h1M5 152h1M10 153h1M24 153h1M36 153h1M4 154h1M30 154h1M27 155h1M9 156h1M17 156h1M22 156h1M4 159h1M7 160h1M38 160h1M4 161h1M13 161h1M31 161h1M4 162h1M23 162h1M22 163h1M5 164h1"/><path stroke="#d0c8f8" d="M22 0h1M24 1h1M28 2h1M23 5h1M6 7h1M34 7h1M39 7h1M1 8h1M18 8h1M27 9h1M37 9h1M26 10h1M18 11h1M32 11h1M39 11h1M34 12h1M16 13h1M30 13h1M4 14h1M38 14h1M17 15h1M32 15h1M32 16h1M35 16h1M18 17h1M25 19h1M35 20h1M23 21h1M37 21h1M26 22h1M1 25h1M9 26h1M27 26h1M35 26h1M36 27h1M34 28h1M16 30h1M37 32h1M39 32h1M4 33h1M15 33h1M28 33h1M31 33h1M10 34h1M21 34h1M30 34h1M26 35h1M1 36h1M4 36h1M21 36h1M30 36h1M32 36h1M23 37h1M33 37h1M0 38h1M24 38h1M16 40h1M36 41h1M32 43h1M38 43h1M13 45h1M36 45h1M35 46h1M15 47h1M17 47h1M23 47h1M40 47h1M31 48h1M12 49h1M25 49h1M3 50h1M23 50h1M34 50h1M10 51h1M4 52h1M26 52h1M24 53h1M30 55h1M16 56h1M28 56h1M40 56h1M2 57h1M10 57h1M21 57h1M19 59h1M25 59h1M28 59h1M0 60h1M33 60h1M13 61h1M9 62h1M27 62h1M32 63h1M39 64h1M20 66h1M31 66h1M32 66h1M39 66h1M7 67h1M11 67h1M32 67h1M38 67h1M33 68h1M26 70h1M27 70h1M21 71h1M13 72h1M24 72h1M36 72h1M5 73h1M12 73h1M30 73h1M35 73h1M7 75h1M23 75h1M4 76h1M21 76h1M39 76h1M2 77h1M23 77h1M24 77h1M36 78h1M5 79h1M7 79h1M11 79h1M12 79h1M36 79h1M13 80h1M8 81h1M34 81h1M9 82h1M13 82h1M10 83h1M19 83h1M6 84h1M17 84h1M23 84h1M2 85h1M25 85h1M29 85h1M34 85h1M20 86h1M33 86h1M40 87h1M36 88h1M12 89h1M40 89h1M34 90h1M13 91h1M25 91h1M29 91h1M32 91h1M6 92h1M8 92h1M33 92h1M40 93h1M9 95h1M19 95h1M23 95h1M29 95h1M9 97h1M0 98h1M19 98h1M22 98h1M25 98h1M32 98h1M11 99h1M12 99h1M32 99h1M24 100h1M24 101h1M7 102h1M4 103h1M3 104h1M11 104h1M16 104h1M10 105h1M32 106h1M33 107h1M28 108h1M31 108h1M9 109h1M1 110h1M7 110h1M19 110h1M21 110h1M6 112h1M13 112h1M0 114h1M23 115h1M13 116h1M14 116h1M36 116h1M34 117h1M11 118h1M37 118h1M1 119h1M6 119h1M5 120h1M27 120h1M2 121h1M22 121h1M34 121h1M5 122h1M20 122h1M32 123h1M10 124h1M18 124h1M33 124h1M1 126h1M4 126h1M24 127h1M4 128h1M17 128h1M23 128h1M6 129h1M8 129h1M9 129h1M18 131h1M21 131h1M23 131h1M28 131h1M7 132h1M16 132h1M18 132h1M2 133h1M4 133h1M25 133h1M31 133h1M32 134h1M10 136h1M22 136h1M24 136h1M21 138h1M29 139h1M32 139h1M3 140h1M15 140h1M23 140h1M2 141h1M4 143h1M7 143h1M9 143h1M15 143h1M20 143h1M24 143h1M0 145h1M8 145h1M10 145h1M17 145h1M3 146h1M15 146h1M28 147h1M4 148h1M8 148h1M15 148h1M19 148h1M0 149h1M11 149h1M4 150h1M7 150h1M27 151h1M31 151h1M2 152h1M27 152h1M3 153h1M5 154h1M35 154h1M7 155h1M26 155h1M28 155h1M6 156h1M12 157h1M6 158h1M15 159h1M21 159h1M3 160h1M14 160h1M16 160h1M22 160h1M24 160h1M1 161h1M12 161h1M17 161h1M29 161h1M38 161h1M19 162h1M26 162h1M8 163h1M23 163h1M39 163h1M34 164h1M37 164h1M3 165h1M9 165h1M27 165h1"/><path stroke="#d8d0f8" d="M23 0h1M32 0h1M39 0h1M37 1h1M25 2h1M38 3h1M30 4h1M21 5h1M31 5h1M40 5h1M20 6h1M37 6h1M14 7h1M20 7h1M31 7h1M8 8h1M14 8h1M16 9h1M32 9h1M0 10h1M19 10h1M6 11h1M24 12h1M2 13h1M38 13h1M31 14h1M34 14h1M4 15h1M13 15h1M26 15h1M36 15h1M40 16h1M8 17h1M21 17h1M24 17h1M39 17h1M4 18h1M32 19h1M18 20h1M20 20h1M27 20h1M19 21h1M18 22h1M4 24h1M9 24h1M16 25h1M17 26h1M12 27h1M9 28h1M16 28h1M38 29h1M22 30h1M6 31h1M13 31h1M33 31h1M2 33h1M30 33h1M35 33h1M8 35h1M24 35h1M31 35h1M35 35h1M7 36h1M11 36h1M22 36h1M34 37h1M18 38h1M20 38h1M25 38h1M32 38h1M37 38h1M27 39h1M33 39h1M13 41h1M25 41h1M27 41h1M30 41h1M13 42h1M27 42h1M39 42h1M9 44h1M11 44h1M38 44h1M14 46h1M26 46h1M29 46h1M22 47h1M31 47h1M40 49h1M16 50h1M26 51h1M3 52h1M31 52h1M36 52h1M5 53h1M9 53h1M27 53h1M29 53h1M39 53h1M23 54h1M37 54h1M27 55h1M8 57h1M35 57h1M17 58h1M36 58h1M40 58h1M36 59h1M26 61h1M28 61h1M36 61h1M19 63h1M33 64h1M38 64h1M17 65h1M20 65h1M28 65h1M33 65h1M23 66h1M35 66h1M10 67h1M34 67h1M32 68h1M27 69h1M36 69h1M31 71h1M35 71h1M1 72h1M8 72h1M22 72h1M7 73h1M38 74h1M0 75h1M29 75h1M6 76h1M32 77h1M36 77h1M3 79h1M40 79h1M2 80h1M28 81h1M1 82h1M29 82h1M17 83h1M30 84h1M37 84h1M8 85h1M10 86h1M14 86h1M9 88h1M12 88h1M19 89h1M14 90h1M22 90h1M0 91h1M10 91h1M17 91h1M39 91h1M3 92h1M18 92h1M19 92h1M22 92h1M17 94h1M25 94h1M28 95h1M2 96h1M20 96h1M26 96h1M5 97h1M17 97h1M19 97h1M22 97h1M23 97h1M2 98h1M5 98h1M7 98h1M17 98h1M30 98h1M9 99h1M21 100h1M37 100h1M39 100h1M0 101h1M3 101h1M14 101h1M27 102h1M28 102h1M31 102h1M39 102h1M20 104h1M22 104h1M29 104h1M9 105h1M32 105h1M2 106h1M5 106h1M26 106h1M8 107h1M38 107h1M2 108h1M37 108h1M40 108h1M2 109h1M13 109h1M34 109h1M9 111h1M20 111h1M28 111h1M32 111h1M7 112h1M21 112h1M5 114h1M33 114h1M8 115h1M31 115h1M20 116h1M0 117h1M6 117h1M12 118h1M32 118h1M3 119h1M13 119h1M23 119h1M3 120h1M14 120h1M33 120h1M11 121h1M24 121h1M9 122h1M12 122h1M17 122h1M31 122h1M9 123h1M19 123h1M21 123h1M26 124h1M4 127h1M17 127h1M25 127h1M11 128h1M20 128h1M24 128h1M35 128h1M36 128h1M0 130h1M22 130h1M22 131h1M10 132h1M15 132h1M6 133h1M11 133h1M6 135h1M14 135h1M26 135h1M6 136h1M16 136h1M17 136h1M36 137h1M2 138h1M10 138h1M22 138h1M34 138h1M1 139h1M6 139h1M8 140h1M36 140h1M19 141h1M0 142h1M9 142h1M31 143h1M38 143h1M8 144h1M12 144h1M18 144h1M25 144h1M12 146h1M14 146h1M9 147h1M33 147h1M3 148h1M14 149h1M15 149h1M22 149h1M21 150h1M28 150h1M1 151h1M31 153h1M1 154h1M10 156h1M31 156h1M28 157h1M31 158h1M0 160h1M8 160h1M21 161h1M12 163h1M19 163h1M20 163h1M25 164h1M29 164h1M11 165h1M22 165h1"/><path stroke="#9088f8" d="M25 0h1M35 1h1M35 2h1M37 4h1M13 8h1M39 9h1M39 10h1M38 11h1M30 14h1M19 18h1M36 18h1M11 24h1M40 30h1M20 34h1M32 34h1M27 36h1M32 39h1M40 39h1M19 41h1M29 45h1M38 48h1M17 49h1M20 49h1M10 52h1M39 58h1M34 59h1M26 60h1M24 64h1M38 65h1M24 67h1M24 73h1M15 74h1M19 77h1M15 78h1M30 78h1M3 80h1M5 81h1M11 81h1M14 85h1M16 89h1M23 89h1M15 96h1M23 100h1M21 101h1M3 105h1M18 106h1M3 107h1M3 108h1M28 109h1M9 110h1M28 110h1M5 113h1M17 116h1M24 117h1M2 124h1M12 131h1M11 137h1M4 139h1M2 146h1M5 150h1M4 160h1M10 160h1M0 163h1"/><path stroke="#f8c8c8" d="M27 0h1M18 1h1M19 2h1M21 2h1M24 2h1M10 3h1M14 3h1M28 3h1M35 4h1M33 6h1M15 7h1M28 7h1M29 7h1M20 9h1M3 10h1M13 10h1M7 11h1M19 11h1M28 11h1M30 11h1M17 12h1M22 12h1M1 13h1M21 13h1M22 13h1M23 13h1M25 13h1M0 15h1M24 16h1M33 16h1M4 17h1M13 17h1M21 18h1M37 19h1M33 20h1M36 21h1M23 22h1M9 23h1M5 24h1M6 24h1M16 24h1M22 24h1M28 24h1M29 24h1M36 24h1M37 24h1M21 25h1M16 26h1M5 27h1M11 27h1M17 27h1M7 28h1M24 28h1M27 28h1M31 28h1M9 29h1M11 29h1M12 29h1M18 29h1M22 29h1M12 30h1M28 31h1M34 32h1M5 33h1M4 34h1M34 34h1M0 35h1M16 35h1M13 36h1M14 36h1M18 36h1M5 37h1M7 37h1M37 37h1M37 39h1M39 39h1M3 40h1M11 40h1M25 40h1M28 40h1M15 41h1M26 42h1M3 43h1M11 43h1M12 43h1M28 43h1M29 43h1M12 44h1M3 45h1M21 45h1M24 46h1M10 47h1M30 47h1M16 48h1M18 49h1M9 50h1M12 50h1M14 51h1M16 51h1M11 52h1M23 52h1M3 53h1M8 53h1M25 53h1M39 54h1M6 55h1M10 55h1M14 55h1M19 55h1M8 56h1M31 56h1M37 56h1M0 57h1M1 57h1M4 57h1M13 57h1M19 57h1M36 57h1M6 58h1M38 58h1M15 59h1M25 60h1M6 61h1M23 61h1M1 63h1M3 63h1M26 63h1M11 64h1M31 64h1M37 64h1M12 65h1M16 65h1M25 65h1M4 66h1M18 66h1M36 66h1M0 67h1M6 67h1M19 67h1M22 68h1M23 68h1M0 69h1M1 69h1M3 69h1M35 69h1M40 70h1M18 71h1M27 71h1M25 72h1M37 72h1M33 73h1M11 74h1M27 74h1M37 74h1M39 75h1M13 76h1M18 76h1M28 76h1M1 77h1M3 78h1M24 78h1M28 78h1M20 79h1M9 80h1M26 80h1M30 80h1M34 80h1M31 81h1M7 82h1M10 82h1M30 83h1M24 84h1M36 84h1M28 85h1M32 86h1M29 87h1M30 87h1M13 88h1M0 89h1M13 89h1M33 89h1M28 90h1M27 91h1M34 91h1M37 91h1M34 92h1M28 94h1M30 94h1M31 94h1M25 95h1M27 95h1M23 96h1M13 98h1M13 99h1M30 100h1M36 100h1M29 102h1M8 104h1M40 104h1M31 105h1M16 106h1M36 108h1M29 109h1M17 110h1M24 110h1M18 112h1M37 112h1M26 113h1M3 114h1M18 114h1M33 116h1M1 117h1M10 117h1M25 117h1M32 117h1M6 118h1M35 118h1M9 119h1M25 120h1M34 120h1M14 121h1M16 121h1M28 121h1M29 121h1M30 121h1M36 121h1M0 123h1M34 123h1M23 125h1M28 125h1M34 125h1M35 125h1M38 125h1M23 126h1M9 127h1M14 127h1M27 128h1M31 128h1M31 129h1M31 130h1M39 130h1M13 131h1M40 131h1M3 132h1M25 136h1M33 136h1M21 137h1M26 137h1M27 137h1M31 137h1M33 138h1M2 139h1M8 139h1M20 139h1M34 140h1M30 141h1M34 141h1M3 142h1M4 142h1M28 142h1M30 142h1M37 142h1M30 143h1M33 143h1M16 144h1M17 144h1M20 144h1M14 145h1M22 145h1M27 145h1M40 145h1M6 146h1M10 146h1M24 146h1M27 147h1M21 148h1M30 148h1M13 150h1M21 151h1M24 151h1M33 151h1M30 152h1M17 153h1M28 153h1M22 154h1M38 154h1M30 155h1M38 155h1M19 156h1M35 156h1M36 156h1M5 157h1M25 158h1M27 158h1M7 159h1M30 159h1M31 160h1M33 161h1M2 165h1M19 165h1"/><path stroke="#7868f8" d="M30 0h1M36 4h1M40 13h1M33 15h1M23 20h1M34 31h1M38 34h1M39 38h1M30 46h1M35 48h1M21 50h1M37 55h1M6 70h1M14 78h1M15 83h1M13 93h1M16 99h1M16 107h1M16 112h1M17 113h1M8 116h1M14 126h1M19 142h1M1 144h1M3 152h1M12 152h1M4 157h1M17 157h1M11 158h1"/><path stroke="#5848f8" d="M31 0h1M33 26h1M38 36h1M15 70h1M22 73h1M22 74h1M15 94h1M20 98h1M4 111h1M0 127h1"/><path stroke="#a898f8" d="M33 0h1M31 6h1M36 7h1M36 14h1M20 15h1M39 18h1M12 19h1M0 23h1M10 24h1M32 24h1M40 29h1M1 31h1M23 31h1M36 37h1M7 39h1M36 40h1M28 44h1M19 48h1M36 48h1M37 48h1M32 57h1M18 63h1M1 71h1M16 71h1M32 71h1M11 72h1M28 73h1M40 80h1M12 81h1M31 83h1M35 85h1M21 86h1M24 86h1M10 89h1M15 89h1M33 90h1M25 93h1M13 94h1M3 97h1M11 97h1M16 97h1M7 103h1M28 112h1M13 114h1M11 117h1M3 118h1M11 120h1M29 120h1M15 130h1M20 131h1M17 132h1M1 140h1M11 141h1M16 142h1M21 143h1M11 146h1M7 148h1M12 148h1M21 153h1M2 158h1M19 158h1M5 161h1"/><path stroke="#9890f8" d="M34 0h1M26 3h1M26 5h1M22 7h1M26 12h1M31 13h1M32 13h1M16 14h1M37 14h1M39 15h1M36 17h1M4 21h1M9 21h1M29 22h1M32 22h1M35 24h1M36 26h1M33 29h1M24 30h1M35 30h1M3 34h1M19 36h1M28 39h1M37 45h1M23 46h1M33 49h1M34 53h1M36 53h1M35 54h1M39 59h1M21 61h1M39 61h1M36 67h1M23 70h1M26 71h1M29 71h1M5 72h1M12 72h1M16 72h1M15 73h1M16 74h1M3 77h1M7 80h1M1 81h1M5 82h1M5 85h1M6 85h1M19 90h1M24 91h1M19 99h1M15 101h1M35 103h1M6 107h1M0 108h1M6 108h1M1 112h1M10 114h1M21 117h1M16 120h1M21 121h1M12 124h1M14 124h1M21 124h1M1 128h1M20 129h1M8 130h1M0 133h1M0 134h1M22 134h1M2 135h1M16 135h1M10 140h1M30 140h1M0 143h1M16 145h1M26 145h1M0 146h1M32 146h1M19 149h1M20 149h1M10 151h1M9 154h1M17 154h1M0 155h1M37 158h1M7 161h1M19 164h1"/><path stroke="#f8d8d8" d="M35 0h1M7 1h1M23 1h1M39 1h1M21 4h1M26 4h1M24 7h1M27 7h1M35 8h1M38 8h1M22 9h1M26 9h1M36 11h1M5 12h1M16 12h1M25 12h1M7 15h1M27 15h1M2 16h1M21 16h1M25 16h1M34 16h1M7 17h1M33 17h1M6 18h1M20 18h1M3 19h1M0 20h1M2 20h1M11 20h1M31 25h1M0 26h1M2 26h1M12 26h1M14 26h1M26 26h1M29 27h1M23 28h1M40 28h1M27 33h1M15 34h1M32 35h1M34 35h1M38 35h1M10 36h1M29 36h1M12 37h1M34 38h1M15 39h1M24 40h1M26 40h1M35 41h1M14 42h1M22 42h1M35 42h1M33 43h1M6 44h1M7 44h1M32 44h1M17 46h1M36 46h1M40 46h1M26 47h1M28 48h1M7 49h1M35 49h1M17 51h1M24 51h1M27 52h1M4 53h1M28 53h1M35 53h1M12 54h1M28 55h1M4 56h1M11 56h1M23 57h1M23 58h1M30 59h1M2 61h1M5 61h1M25 62h1M30 62h1M2 63h1M8 63h1M38 63h1M6 65h1M7 65h1M24 66h1M25 66h1M28 66h1M30 66h1M12 67h1M4 68h1M9 70h1M19 70h1M24 70h1M20 72h1M32 72h1M4 73h1M11 73h1M16 73h1M1 74h1M24 75h1M9 76h1M11 76h1M34 76h1M26 78h1M31 78h1M14 79h1M3 86h1M6 86h1M23 86h1M7 87h1M19 87h1M21 87h1M10 88h1M23 88h1M39 88h1M24 89h1M28 89h1M6 90h1M19 94h1M32 94h1M21 96h1M35 96h1M27 97h1M3 99h1M6 99h1M7 99h1M7 101h1M20 101h1M28 101h1M21 102h1M8 103h1M20 103h1M34 103h1M8 105h1M23 105h1M11 106h1M24 106h1M28 106h1M32 107h1M1 108h1M3 109h1M25 109h1M0 110h1M36 110h1M37 110h1M35 111h1M0 113h1M4 114h1M16 114h1M21 114h1M26 115h1M30 116h1M34 116h1M20 117h1M5 118h1M30 118h1M31 118h1M5 121h1M27 121h1M27 122h1M30 123h1M36 123h1M11 124h1M25 124h1M9 125h1M22 126h1M26 126h1M26 127h1M10 128h1M18 128h1M34 128h1M33 129h1M20 130h1M27 130h1M34 130h1M8 131h1M24 131h1M33 131h1M36 131h1M13 133h1M34 134h1M0 135h1M13 135h1M15 135h1M29 135h1M28 136h1M15 137h1M37 137h1M26 138h1M3 139h1M7 139h1M0 141h1M31 141h1M24 142h1M34 142h1M19 143h1M35 143h1M7 145h1M9 145h1M31 145h1M29 146h1M0 147h1M4 147h1M26 147h1M28 148h1M32 149h1M29 150h1M16 151h1M19 151h1M25 153h1M0 154h1M11 155h1M21 155h1M24 155h1M34 156h1M3 157h1M6 157h1M9 157h1M34 157h1M5 158h1M14 158h1M21 158h1M39 158h1M9 159h1M2 161h1M3 162h1M6 164h1M9 164h1M10 165h1M14 165h1M25 165h1M26 165h1"/><path stroke="#f0d8e0" d="M36 0h1M38 1h1M13 5h1M16 5h1M27 5h1M17 6h1M34 6h1M33 7h1M24 8h1M38 9h1M11 11h1M14 12h1M17 13h1M19 15h1M0 16h1M12 18h1M21 19h1M19 22h1M18 30h1M21 30h1M0 31h1M22 37h1M15 38h1M33 40h1M2 41h1M15 42h1M16 42h1M25 46h1M5 50h1M11 50h1M37 50h1M12 52h1M0 61h1M12 62h1M34 64h1M40 67h1M1 68h1M31 69h1M33 69h1M33 70h1M19 73h1M4 75h1M21 75h1M0 76h1M11 80h1M36 82h1M14 84h1M22 85h1M1 87h1M23 87h1M33 91h1M17 93h1M18 95h1M19 96h1M39 96h1M8 98h1M11 100h1M28 100h1M34 101h1M19 103h1M10 107h1M29 108h1M6 109h1M22 109h1M19 111h1M25 111h1M38 114h1M16 115h1M27 115h1M33 118h1M23 120h1M19 121h1M34 124h1M32 129h1M24 130h1M27 136h1M29 137h1M23 138h1M32 138h1M39 140h1M21 141h1M40 142h1M22 144h1M16 146h1M37 152h1M39 152h1M20 157h1M17 159h1M18 161h1M21 162h1M36 163h1M37 163h1M24 164h1M6 165h1"/><path stroke="#c0b8f8" d="M37 0h1M38 0h1M2 1h1M12 1h1M18 2h1M30 2h1M31 2h1M19 5h1M38 5h1M12 8h1M30 8h1M25 10h1M31 10h1M32 10h1M3 11h1M34 11h1M35 12h1M36 12h1M38 12h1M28 15h1M17 16h1M37 16h1M29 17h1M32 17h1M40 17h1M37 20h1M38 21h1M39 21h1M31 22h1M33 22h1M31 23h1M39 23h1M2 24h1M18 24h1M38 25h1M4 26h1M13 26h1M37 27h1M36 28h1M4 31h1M5 31h1M12 31h1M14 31h1M38 31h1M0 34h1M8 34h1M4 35h1M3 36h1M9 36h1M16 36h1M20 36h1M31 36h1M31 37h1M10 38h1M17 39h1M29 39h1M40 40h1M37 41h1M40 42h1M32 46h1M33 46h1M37 46h1M35 47h1M12 48h1M14 48h1M15 48h1M0 49h1M29 49h1M28 52h1M30 52h1M34 52h1M21 53h1M26 53h1M40 54h1M13 55h1M24 56h1M12 57h1M24 57h1M34 57h1M5 58h1M16 59h1M9 61h1M34 61h1M40 61h1M29 62h1M34 63h1M17 64h1M40 64h1M23 65h1M8 66h1M33 66h1M16 68h1M38 69h1M10 70h1M0 71h1M3 71h1M40 72h1M23 73h1M26 74h1M12 76h1M14 76h1M2 78h1M22 80h1M22 81h1M23 81h1M11 83h1M18 83h1M25 83h1M4 84h1M3 85h1M15 85h1M17 85h1M10 87h1M16 87h1M24 87h1M25 87h1M28 87h1M19 88h1M27 88h1M11 89h1M11 91h1M0 92h1M1 92h1M11 92h1M16 93h1M24 94h1M0 95h1M2 95h1M5 95h1M0 96h1M33 97h1M6 98h1M1 99h1M8 100h1M13 100h1M22 100h1M9 101h1M31 101h1M4 102h1M14 102h1M15 102h1M6 103h1M22 103h1M6 104h1M17 104h1M32 104h1M0 106h1M4 107h1M12 107h1M21 107h1M27 109h1M11 111h1M17 111h1M30 112h1M32 112h1M12 113h1M30 113h1M7 114h1M27 114h1M21 116h1M32 116h1M13 117h1M30 117h1M7 118h1M9 118h1M24 118h1M26 118h1M39 118h1M5 119h1M24 120h1M28 120h1M8 121h1M8 122h1M10 122h1M15 122h1M18 122h1M0 125h1M13 125h1M9 126h1M12 126h1M35 126h1M12 127h1M14 128h1M21 128h1M26 128h1M5 129h1M12 129h1M4 130h1M18 130h1M21 130h1M28 130h1M27 131h1M5 132h1M6 134h1M18 134h1M18 136h1M21 136h1M1 137h1M20 138h1M9 139h1M39 139h1M12 140h1M20 140h1M21 140h1M12 141h1M20 141h1M25 141h1M37 141h1M27 142h1M32 142h1M37 143h1M7 144h1M13 144h1M14 144h1M39 145h1M9 146h1M17 148h1M10 149h1M12 149h1M16 149h1M33 149h1M6 150h1M33 150h1M40 151h1M7 152h1M1 153h1M11 153h1M2 154h1M29 154h1M36 154h1M13 155h1M33 155h1M12 156h1M3 158h1M22 161h1M1 164h1M7 164h1M12 165h1M13 165h1"/><path stroke="#f8a8a0" d="M0 1h1M5 1h1M25 1h1M1 3h1M20 3h1M23 4h1M33 4h1M22 5h1M1 6h1M17 7h1M19 7h1M9 9h1M29 9h1M0 11h1M16 11h1M3 14h1M2 18h1M27 18h1M10 19h1M3 21h1M11 21h1M29 21h1M36 25h1M16 27h1M26 28h1M15 29h1M22 33h1M23 33h1M0 36h1M27 38h1M29 38h1M0 39h1M8 39h1M29 42h1M19 43h1M12 45h1M25 45h1M28 45h1M22 46h1M8 47h1M29 47h1M6 48h1M11 48h1M11 49h1M26 49h1M36 51h1M25 54h1M9 55h1M4 58h1M7 58h1M8 58h1M27 60h1M34 60h1M17 61h1M9 64h1M29 65h1M18 67h1M25 67h1M14 68h1M16 69h1M28 74h1M13 75h1M28 75h1M25 78h1M35 79h1M37 80h1M22 82h1M27 85h1M36 85h1M37 85h1M40 86h1M20 87h1M36 87h1M7 88h1M32 88h1M34 88h1M38 88h1M40 88h1M27 92h1M37 96h1M22 99h1M33 99h1M36 103h1M4 104h1M36 106h1M39 107h1M34 110h1M22 111h1M30 111h1M36 112h1M35 113h1M11 115h1M18 117h1M3 123h1M11 123h1M14 123h1M23 123h1M28 124h1M26 125h1M33 128h1M19 130h1M35 131h1M25 134h1M33 134h1M21 135h1M31 136h1M28 137h1M6 138h1M35 140h1M38 141h1M39 142h1M33 144h1M24 148h1M26 148h1M40 148h1M38 149h1M13 151h1M28 151h1M19 153h1M33 153h1M39 161h1M9 162h1M14 163h1M35 165h1M39 165h1"/><path stroke="#f8a098" d="M1 1h1M14 1h1M4 3h1M6 3h1M6 5h1M0 6h1M3 6h1M8 6h1M11 8h1M13 9h1M33 11h1M26 14h1M9 15h1M16 15h1M13 16h1M0 17h1M9 17h1M20 17h1M23 17h1M7 18h1M9 20h1M19 20h1M25 21h1M1 23h1M17 23h1M3 27h1M0 28h1M7 29h1M7 31h1M11 33h1M7 35h1M4 38h1M21 38h1M4 39h1M5 40h1M13 40h1M14 40h1M31 42h1M2 46h1M11 47h1M13 47h1M14 47h1M8 49h1M4 50h1M13 50h1M18 50h1M9 54h1M32 54h1M14 56h1M7 57h1M2 58h1M19 61h1M3 62h1M8 62h1M13 64h1M22 64h1M28 68h1M14 69h1M21 69h1M22 69h1M3 72h1M12 74h1M39 74h1M8 76h1M33 82h1M5 86h1M18 87h1M39 87h1M21 90h1M18 94h1M3 96h1M4 99h1M5 99h1M26 100h1M29 101h1M8 102h1M30 102h1M38 102h1M27 104h1M22 106h1M25 106h1M27 106h1M40 107h1M35 109h1M27 110h1M38 110h1M4 113h1M29 116h1M26 119h1M36 120h1M38 123h1M40 123h1M34 126h1M28 129h1M28 133h1M36 133h1M40 133h1M25 138h1M29 145h1M30 145h1M39 148h1M29 149h1M34 149h1M16 150h1M29 151h1M21 156h1M29 156h1M33 157h1M1 158h1M28 159h1M20 160h1M13 162h1M5 163h1M32 165h1"/><path stroke="#f87060" d="M8 1h1M11 4h1M5 7h1M12 7h1M15 16h1M17 18h1M1 19h1M22 20h1M8 21h1M10 28h1M16 38h1M20 58h1M38 81h1M36 94h1M35 95h1M28 104h1M2 116h1M40 147h1M35 151h1M33 159h1M20 165h1"/><path stroke="#f86860" d="M13 1h1M15 5h1M12 11h1M21 11h1M1 12h1M23 16h1M5 19h1M23 23h1M8 30h1M15 32h1M15 53h1M24 68h1M9 69h1M38 79h1M39 84h1M38 90h1M37 116h1M40 122h1M40 137h1M28 152h1M16 153h1M36 155h1M38 164h1"/><path stroke="#f0e8f0" d="M21 1h1M27 1h1M9 13h1M23 25h1M10 33h1M19 34h1M27 54h1M33 80h1M7 92h1M6 96h1M32 148h1M29 152h1"/><path stroke="#f89898" d="M26 1h1M7 4h1M27 4h1M11 12h1M8 18h1M18 21h1M4 23h1M2 40h1M22 40h1M27 44h1M11 53h1M3 54h1M21 55h1M18 64h1M14 65h1M5 68h1M11 69h1M26 69h1M8 74h1M30 74h1M27 76h1M28 80h1M39 85h1M29 88h1M31 88h1M24 90h1M33 96h1M34 98h1M33 106h1M11 109h1M19 118h1M14 122h1M19 127h1M39 127h1M34 131h1M24 132h1M31 132h1M39 132h1M27 134h1M39 135h1M34 145h1M27 150h1M36 150h1M35 162h1M7 165h1M16 165h1"/><path stroke="#b0a8f8" d="M28 1h1M33 2h1M22 4h1M20 5h1M28 5h1M39 5h1M40 6h1M17 8h1M21 9h1M28 10h1M34 10h1M34 13h1M24 15h1M30 15h1M40 15h1M3 18h1M16 18h1M28 18h1M33 18h1M40 18h1M38 19h1M34 20h1M5 23h1M25 23h1M33 24h1M38 24h1M18 27h1M25 27h1M34 27h1M12 28h1M16 29h1M20 29h1M23 29h1M27 30h1M28 30h1M29 30h1M16 31h1M17 31h1M32 32h1M38 32h1M28 35h1M29 35h1M5 36h1M17 36h1M37 36h1M1 39h1M31 40h1M1 41h1M16 44h1M20 44h1M33 44h1M36 44h1M37 44h1M3 46h1M16 47h1M36 47h1M38 47h1M29 48h1M24 49h1M32 49h1M26 50h1M38 50h1M20 51h1M7 56h1M21 56h1M1 58h1M27 59h1M16 60h1M28 64h1M30 65h1M34 68h1M4 71h1M6 71h1M4 72h1M9 72h1M23 72h1M2 73h1M14 73h1M31 73h1M7 74h1M10 74h1M3 75h1M12 75h1M31 75h1M33 75h1M9 77h1M16 77h1M34 78h1M2 79h1M9 79h1M19 80h1M26 81h1M12 83h1M26 83h1M35 83h1M11 84h1M20 85h1M23 85h1M40 85h1M0 86h1M4 88h1M8 88h1M12 90h1M17 90h1M23 90h1M5 91h1M28 91h1M26 92h1M12 94h1M16 94h1M17 95h1M21 95h1M1 97h1M13 97h1M18 97h1M29 97h1M18 99h1M6 100h1M23 101h1M23 102h1M12 103h1M23 103h1M33 103h1M11 105h1M7 107h1M13 107h1M0 109h1M12 110h1M14 111h1M18 111h1M11 114h1M19 114h1M30 114h1M32 114h1M5 117h1M1 118h1M21 118h1M30 120h1M23 122h1M6 124h1M20 124h1M6 125h1M25 126h1M13 127h1M2 129h1M23 129h1M23 130h1M29 131h1M30 131h1M28 132h1M16 133h1M17 137h1M25 137h1M33 137h1M9 138h1M18 141h1M2 142h1M12 142h1M27 143h1M6 144h1M19 144h1M11 145h1M7 146h1M22 146h1M8 147h1M10 147h1M14 147h1M24 147h1M0 148h1M13 148h1M24 149h1M33 152h1M27 154h1M2 155h1M23 155h1M8 156h1M22 157h1M10 158h1M12 158h1M9 160h1M33 160h1M3 161h1M8 161h1M20 161h1M15 162h1M17 162h1M1 163h1M7 163h1M9 163h1M25 163h1M29 163h1M2 164h1M14 164h1M30 165h1"/><path stroke="#f0e0e0" d="M29 1h1M0 3h1M10 5h1M34 5h1M25 6h1M27 6h1M7 7h1M30 7h1M23 10h1M27 11h1M7 12h1M10 12h1M1 14h1M7 14h1M21 14h1M23 15h1M36 16h1M11 17h1M27 17h1M9 18h1M29 19h1M31 20h1M40 20h1M17 22h1M7 24h1M27 24h1M11 25h1M33 25h1M15 27h1M28 27h1M17 28h1M19 28h1M6 29h1M30 29h1M27 31h1M25 34h1M2 35h1M19 35h1M34 36h1M38 37h1M3 39h1M26 39h1M35 39h1M7 40h1M9 40h1M7 41h1M31 41h1M4 45h1M11 45h1M17 45h1M18 45h1M31 45h1M32 45h1M7 46h1M32 47h1M13 49h1M25 52h1M35 52h1M19 53h1M22 54h1M2 55h1M3 56h1M5 56h1M6 56h1M25 56h1M36 56h1M5 57h1M9 57h1M14 57h1M28 58h1M40 59h1M12 60h1M17 60h1M8 61h1M37 61h1M6 62h1M14 62h1M18 62h1M21 64h1M10 65h1M7 66h1M40 66h1M4 67h1M9 67h1M28 67h1M31 68h1M5 70h1M22 71h1M30 72h1M38 72h1M0 73h1M32 73h1M0 74h1M19 74h1M14 75h1M34 75h1M32 76h1M37 76h1M14 77h1M37 78h1M18 79h1M29 80h1M18 81h1M20 82h1M13 83h1M29 83h1M39 83h1M0 84h1M32 84h1M11 85h1M35 86h1M5 87h1M27 87h1M3 88h1M3 89h1M8 89h1M7 90h1M21 92h1M30 93h1M3 94h1M8 96h1M14 96h1M2 97h1M10 97h1M39 97h1M2 99h1M5 100h1M5 101h1M0 102h1M2 102h1M10 102h1M20 102h1M37 102h1M0 103h1M2 103h1M9 103h1M28 103h1M37 103h1M1 105h1M14 105h1M21 105h1M37 105h1M24 107h1M31 107h1M32 108h1M23 109h1M31 109h1M5 110h1M21 113h1M23 113h1M20 114h1M25 114h1M26 114h1M14 115h1M25 115h1M4 117h1M8 117h1M13 118h1M34 118h1M30 119h1M9 120h1M8 123h1M12 123h1M8 125h1M18 126h1M7 127h1M34 127h1M14 129h1M27 129h1M16 130h1M29 132h1M7 133h1M17 133h1M29 133h1M12 134h1M20 134h1M31 135h1M12 136h1M8 138h1M14 138h1M19 138h1M33 139h1M40 139h1M7 140h1M40 140h1M18 143h1M25 143h1M29 144h1M24 145h1M35 145h1M20 146h1M22 147h1M37 147h1M6 148h1M37 148h1M19 150h1M30 150h1M23 151h1M25 151h1M15 152h1M0 153h1M7 153h1M29 153h1M31 154h1M40 154h1M1 155h1M6 155h1M2 157h1M15 157h1M8 158h1M38 158h1M14 159h1M15 161h1M6 162h1M13 163h1M16 164h1M31 164h1M23 165h1M29 165h1"/><path stroke="#c0b0f8" d="M31 1h1M32 7h1M39 8h1M4 22h1M12 32h1M28 32h1M17 35h1M0 41h1M39 41h1M39 44h1M21 48h1M31 53h1M21 58h1M23 62h1M10 72h1M1 73h1M8 78h1M23 83h1M38 84h1M1 85h1M4 86h1M9 87h1M4 94h1M7 96h1M3 98h1M10 111h1M25 112h1M16 117h1M5 123h1M0 124h1M3 126h1M3 133h1M11 136h1M3 137h1M24 137h1M19 139h1M26 142h1M37 144h1M5 145h1M29 147h1M14 148h1M26 163h1"/><path stroke="#a090f8" d="M33 1h1M36 1h1M31 15h1M35 17h1M30 19h1M39 25h1M40 27h1M31 31h1M27 34h1M19 38h1M38 39h1M18 52h1M33 57h1M39 57h1M33 63h1M40 69h1M3 70h1M2 76h1M15 79h1M21 80h1M11 86h1M14 88h1M21 88h1M11 90h1M13 95h1M14 97h1M16 101h1M1 107h1M18 108h1M34 114h1M12 115h1M12 116h1M11 119h1M17 124h1M17 129h1M13 132h1M3 134h1M26 139h1M10 142h1M4 144h1M2 149h1M12 155h1M0 164h1"/><path stroke="#f8c0b8" d="M34 1h1M0 2h1M11 3h1M34 3h1M22 6h1M25 7h1M23 8h1M25 8h1M34 9h1M22 10h1M1 17h1M7 19h1M20 21h1M3 23h1M13 23h1M5 25h1M24 25h1M10 27h1M25 30h1M6 32h1M3 33h1M10 35h1M32 37h1M10 41h1M16 43h1M18 47h1M3 48h1M40 55h1M8 59h1M35 60h1M22 61h1M36 71h1M40 71h1M19 72h1M23 74h1M36 75h1M31 76h1M20 78h1M12 80h1M25 81h1M23 82h1M10 85h1M22 88h1M35 88h1M32 90h1M12 91h1M6 94h1M11 94h1M40 98h1M20 100h1M30 103h1M0 105h1M14 107h1M35 117h1M37 119h1M6 122h1M20 127h1M1 132h1M23 132h1M34 132h1M40 132h1M23 133h1M37 133h1M10 144h1M28 144h1M28 160h1M36 162h1M5 165h1"/><path stroke="#c8b8f8" d="M40 1h1M21 10h1M39 13h1M37 17h1M36 19h1M30 25h1M13 27h1M22 35h1M20 47h1M25 51h1M38 57h1M40 57h1M9 75h1M7 76h1M0 77h1M12 85h1M26 87h1M2 88h1M7 91h1M14 110h1M17 112h1M22 116h1M4 120h1M7 129h1M3 131h1M10 154h1M13 156h1"/><path stroke="#f8a0a0" d="M1 2h1M7 2h1M8 5h1M19 6h1M6 8h1M27 8h1M5 9h1M24 9h1M23 11h1M13 13h1M14 13h1M26 17h1M22 19h1M26 23h1M5 28h1M14 39h1M39 40h1M5 42h1M33 42h1M8 43h1M0 46h1M12 47h1M39 47h1M2 48h1M1 50h1M33 54h1M0 55h1M22 59h1M20 60h1M4 61h1M10 61h1M5 64h1M8 65h1M26 65h1M22 67h1M33 71h1M39 71h1M38 73h1M11 75h1M40 78h1M13 79h1M39 80h1M4 87h1M12 93h1M40 94h1M34 97h1M29 100h1M18 103h1M15 119h1M32 120h1M31 121h1M20 123h1M37 125h1M29 126h1M39 126h1M40 126h1M27 127h1M34 129h1M38 131h1M37 132h1M24 134h1M0 137h1M39 138h1M37 139h1M26 141h1M22 143h1M34 144h1M1 145h1M21 146h1M5 147h1M15 151h1M39 151h1M39 153h1M8 155h1M34 158h1M11 160h1M17 164h1M28 165h1"/><path stroke="#f89090" d="M6 2h1M1 21h1M1 29h1M17 29h1M8 41h1M3 47h1M8 60h1M0 62h1M29 64h1M8 68h1M39 73h1M37 81h1M38 85h1M13 87h1M20 91h1M8 93h1M34 93h1M6 105h1M8 113h1M28 127h1M29 142h1M32 154h1M35 155h1M39 160h1"/><path stroke="#f84030" d="M8 2h1M15 12h1M11 16h1M15 63h1M39 105h1M40 109h1M32 122h1M39 137h1M33 146h1"/><path stroke="#f8b0b0" d="M9 2h1M12 3h1M13 4h1M18 6h1M23 6h1M2 7h1M9 7h1M2 8h1M14 9h1M30 9h1M5 10h1M1 11h1M8 11h1M23 12h1M0 14h1M32 14h1M28 17h1M0 18h1M13 18h1M12 20h1M21 20h1M5 22h1M20 22h1M12 23h1M21 23h1M19 25h1M22 25h1M8 26h1M8 27h1M8 33h1M39 33h1M9 34h1M17 38h1M9 41h1M14 41h1M28 41h1M29 41h1M4 42h1M5 43h1M20 43h1M24 43h1M29 44h1M24 45h1M35 45h1M5 46h1M25 47h1M5 48h1M7 48h1M10 48h1M9 49h1M0 51h1M6 52h1M0 53h1M33 53h1M18 54h1M28 54h1M16 55h1M18 55h1M22 55h1M18 57h1M15 58h1M18 58h1M5 59h1M35 59h1M3 60h1M7 60h1M32 61h1M20 62h1M12 69h1M32 69h1M7 70h1M22 70h1M28 71h1M9 73h1M36 73h1M35 75h1M22 76h1M25 77h1M18 80h1M13 81h1M17 82h1M21 82h1M24 82h1M39 82h1M37 83h1M12 86h1M30 88h1M3 91h1M18 91h1M40 95h1M38 96h1M38 97h1M40 97h1M9 98h1M26 98h1M34 100h1M6 101h1M8 101h1M37 101h1M5 102h1M9 102h1M31 103h1M23 104h1M33 104h1M35 104h1M20 106h1M40 106h1M23 107h1M27 107h1M26 111h1M3 112h1M36 113h1M39 113h1M40 113h1M38 115h1M1 116h1M26 116h1M38 116h1M22 119h1M37 120h1M6 121h1M33 121h1M29 122h1M13 126h1M31 126h1M32 126h1M37 126h1M1 127h1M19 128h1M32 128h1M2 130h1M32 131h1M36 132h1M1 133h1M12 133h1M19 133h1M34 133h1M25 135h1M20 137h1M35 138h1M31 140h1M1 143h1M36 143h1M31 144h1M35 144h1M28 145h1M37 146h1M19 147h1M30 149h1M40 149h1M22 152h1M25 152h1M30 153h1M25 155h1M32 156h1M19 157h1M25 157h1M38 157h1M27 161h1M28 162h1M37 165h1"/><path stroke="#f8d0d8" d="M10 2h1M12 2h1M24 3h1M24 6h1M9 12h1M11 13h1M8 22h1M26 27h1M4 37h1M21 44h1M8 45h1M27 48h1M15 50h1M24 55h1M14 59h1M16 63h1M35 64h1M30 68h1M21 70h1M5 74h1M20 76h1M22 79h1M21 84h1M9 85h1M28 88h1M25 89h1M27 90h1M30 90h1M35 92h1M19 93h1M2 94h1M30 95h1M34 102h1M22 113h1M40 114h1M31 120h1M35 123h1M3 127h1M3 129h1M32 130h1M0 131h1M7 136h1M38 139h1M21 144h1M24 144h1M21 145h1M20 147h1M23 153h1"/><path stroke="#7870f8" d="M17 2h1M40 9h1M30 10h1M32 20h1M39 20h1M25 28h1M32 30h1M40 34h1M20 35h1M26 37h1M36 49h1M32 50h1M25 61h1M30 61h1M37 68h1M12 71h1M18 75h1M15 77h1M16 78h1M1 80h1M0 83h1M15 95h1M17 100h1M30 105h1M12 112h1M6 113h1M17 117h1M2 131h1M12 135h1M18 140h1M5 144h1M18 152h1M12 164h1M18 164h1M28 164h1"/><path stroke="#f87868" d="M26 2h1M3 4h1M8 12h1M18 18h1M15 23h1M2 27h1M1 32h1M23 55h1M32 95h1M40 105h1M38 112h1M33 126h1M27 138h1M34 165h1M38 165h1"/><path stroke="#5040f8" d="M32 2h1M40 45h1M2 89h1"/><path stroke="#e0d8f0" d="M38 2h1M39 6h1M11 7h1M10 8h1M16 8h1M4 9h1M17 10h1M18 10h1M24 10h1M2 11h1M5 11h1M10 13h1M39 14h1M27 16h1M24 18h1M34 18h1M26 20h1M0 21h1M17 21h1M1 22h1M2 22h1M25 24h1M6 26h1M19 26h1M24 29h1M30 30h1M25 31h1M24 33h1M25 33h1M23 34h1M36 35h1M36 36h1M3 37h1M20 37h1M15 40h1M17 40h1M34 41h1M9 43h1M27 43h1M5 45h1M27 45h1M15 49h1M23 49h1M37 51h1M15 52h1M20 53h1M4 54h1M29 54h1M34 54h1M10 58h1M26 58h1M9 59h1M14 60h1M29 60h1M24 61h1M38 61h1M22 62h1M31 62h1M36 62h1M10 68h1M13 68h1M30 69h1M13 70h1M18 72h1M27 72h1M2 74h1M6 74h1M36 74h1M7 77h1M37 77h1M14 80h1M16 80h1M19 81h1M26 88h1M35 89h1M2 91h1M27 93h1M36 93h1M23 94h1M22 95h1M36 95h1M18 96h1M32 96h1M28 97h1M0 100h1M2 100h1M27 100h1M31 100h1M19 102h1M1 104h1M14 104h1M24 104h1M33 105h1M35 106h1M26 107h1M37 107h1M30 109h1M11 113h1M16 113h1M13 115h1M5 116h1M9 116h1M31 117h1M25 119h1M26 120h1M9 121h1M17 121h1M34 122h1M13 123h1M5 127h1M22 127h1M25 128h1M25 129h1M10 130h1M14 130h1M14 131h1M11 132h1M30 133h1M38 133h1M4 134h1M30 134h1M9 135h1M20 136h1M10 137h1M14 137h1M15 139h1M16 139h1M5 141h1M13 141h1M17 143h1M36 144h1M26 146h1M29 148h1M11 150h1M11 151h1M36 151h1M8 152h1M32 152h1M6 153h1M38 153h1M3 154h1M33 154h1M20 155h1M24 157h1M8 159h1M16 159h1M30 160h1M11 162h1M11 163h1M27 163h1"/><path stroke="#6858f8" d="M40 2h1M19 16h1M32 40h1M16 103h1M15 107h1M12 114h1M15 117h1M15 118h1M0 121h1M13 142h1M26 164h1"/><path stroke="#8078f8" d="M3 3h1M40 3h1M36 9h1M31 12h1M40 14h1M38 17h1M33 36h1M39 36h1M23 40h1M40 51h1M5 65h1M36 70h1M6 77h1M17 79h1M15 84h1M7 86h1M16 100h1M25 101h1M16 102h1M15 104h1M25 107h1M19 109h1M3 110h1M0 112h1M2 112h1M13 113h1M8 114h1M17 114h1M7 116h1M6 120h1M35 121h1M22 122h1M6 132h1M15 138h1M18 139h1M4 145h1M16 152h1M11 154h1M17 155h1M9 158h1M13 160h1"/><path stroke="#f85848" d="M7 3h1M15 9h1M18 13h1M8 14h1M13 25h1M6 34h1M1 43h1M6 46h1M16 66h1M25 69h1M37 79h1M36 114h1M27 118h1M39 141h1"/><path stroke="#f85038" d="M15 3h1"/><path stroke="#f8a8a8" d="M16 3h1M32 4h1M3 9h1M23 9h1M10 11h1M27 13h1M5 14h1M12 14h1M29 16h1M39 16h1M5 17h1M15 17h1M22 18h1M13 19h1M6 20h1M2 21h1M16 21h1M7 22h1M20 27h1M22 28h1M26 29h1M29 31h1M13 35h1M25 39h1M38 40h1M23 42h1M22 44h1M15 46h1M6 47h1M0 48h1M22 50h1M30 51h1M7 54h1M34 55h1M33 56h1M16 57h1M11 59h1M29 59h1M6 60h1M32 60h1M5 63h1M6 63h1M31 63h1M24 65h1M21 67h1M0 68h1M7 69h1M29 69h1M38 71h1M18 73h1M38 75h1M39 77h1M6 78h1M21 78h1M27 78h1M24 79h1M39 79h1M8 80h1M2 83h1M27 86h1M36 86h1M39 86h1M11 88h1M1 89h1M31 90h1M36 90h1M40 90h1M39 93h1M39 98h1M40 100h1M40 101h1M1 103h1M9 106h1M29 106h1M10 109h1M33 110h1M34 112h1M40 112h1M7 115h1M19 115h1M29 115h1M25 118h1M16 119h1M18 123h1M19 124h1M39 124h1M14 125h1M7 126h1M5 128h1M39 128h1M4 129h1M35 130h1M26 131h1M35 132h1M39 134h1M40 135h1M14 139h1M7 149h1M17 151h1M13 154h1M39 154h1M0 156h1M4 156h1M40 156h1M36 157h1M37 157h1M35 158h1M1 159h1M35 160h1M36 161h1M32 162h1M13 164h1"/><path stroke="#f86050" d="M18 3h1M10 6h1M8 9h1M3 26h1M15 26h1M1 42h1M2 43h1M30 60h1M18 74h1M39 78h1M40 96h1M38 129h1M29 143h1M35 150h1M40 162h1M27 164h1M33 165h1"/><path stroke="#a8a0f8" d="M27 3h1M12 5h1M32 5h1M5 6h1M30 6h1M16 10h1M35 10h1M38 10h1M24 14h1M2 17h1M31 19h1M26 25h1M35 27h1M39 27h1M18 31h1M36 32h1M12 33h1M18 34h1M24 34h1M26 34h1M40 37h1M33 38h1M31 39h1M37 40h1M18 41h1M30 42h1M37 42h1M30 43h1M22 45h1M30 45h1M1 46h1M34 46h1M34 47h1M2 50h1M30 50h1M32 51h1M34 51h1M8 52h1M6 53h1M37 53h1M38 53h1M38 55h1M32 56h1M32 59h1M31 61h1M35 61h1M11 62h1M0 65h1M39 65h1M3 68h1M39 69h1M4 70h1M16 70h1M37 70h1M5 71h1M7 71h1M17 72h1M28 72h1M29 72h1M33 72h1M8 77h1M34 77h1M25 80h1M10 81h1M5 84h1M21 85h1M1 88h1M5 89h1M31 89h1M10 90h1M26 91h1M12 92h1M23 92h1M29 92h1M12 96h1M7 97h1M12 97h1M16 98h1M8 99h1M10 101h1M12 101h1M17 102h1M24 103h1M5 104h1M10 104h1M25 104h1M16 105h1M19 106h1M23 106h1M22 107h1M8 108h1M9 108h1M5 112h1M20 112h1M22 112h1M1 115h1M7 117h1M14 117h1M8 118h1M14 118h1M23 118h1M19 120h1M11 122h1M21 122h1M1 123h1M6 123h1M4 124h1M30 124h1M2 126h1M0 128h1M15 128h1M16 128h1M1 130h1M5 130h1M12 130h1M10 131h1M20 132h1M22 133h1M10 134h1M15 136h1M16 137h1M3 138h1M7 138h1M12 138h1M29 141h1M23 144h1M15 145h1M19 145h1M20 145h1M13 146h1M2 147h1M7 147h1M23 147h1M9 148h1M4 152h1M10 152h1M9 153h1M10 155h1M16 156h1M10 159h1M12 159h1M27 160h1M19 161h1M2 162h1M2 163h1"/><path stroke="#9888f8" d="M30 3h1M35 3h1M31 11h1M28 13h1M38 16h1M34 23h1M21 27h1M21 37h1M5 49h1M39 49h1M18 51h1M39 51h1M16 76h1M2 81h1M5 83h1M32 83h1M13 85h1M11 98h1M0 99h1M17 101h1M9 107h1M8 109h1M19 113h1M2 114h1M16 116h1M7 120h1M15 125h1M4 132h1M11 134h1M11 138h1M5 140h1M6 141h1M1 142h1M15 144h1M11 148h1M21 154h1M15 160h1M7 162h1M18 165h1"/><path stroke="#8070f8" d="M31 3h1M37 3h1M33 10h1M17 11h1M17 17h1M30 20h1M38 20h1M32 26h1M31 27h1M19 31h1M30 38h1M30 40h1M34 45h1M16 79h1M19 85h1M31 86h1M17 87h1M16 90h1M9 92h1M15 92h1M12 106h1M16 108h1M3 115h1M0 116h1M8 119h1M0 120h1M12 120h1M8 124h1M31 124h1M1 125h1M5 138h1M3 145h1M17 146h1M9 152h1M6 159h1M24 165h1"/><path stroke="#f8c8d0" d="M32 3h1M21 8h1M9 14h1M14 15h1M14 21h1M36 33h1M39 45h1M12 51h1M26 62h1M28 79h1M31 84h1M6 87h1M30 91h1M24 95h1M36 107h1M29 114h1M25 123h1M5 135h1M13 137h1M0 144h1M19 154h1M7 158h1"/><path stroke="#f84838" d="M8 4h1M13 6h1M15 8h1M1 16h1M0 37h1M9 48h1M29 90h1M36 99h1M37 106h1M39 131h1M38 132h1M37 151h1"/><path stroke="#f8c8c0" d="M17 4h1M22 11h1M7 13h1M12 13h1M22 21h1M2 34h1M29 34h1M22 41h1M32 55h1M16 61h1M2 68h1M2 75h1M22 84h1M4 92h1M29 107h1M24 115h1M27 116h1M40 124h1M23 150h1M26 150h1M6 154h1M25 154h1M11 157h1M23 160h1M10 164h1M40 164h1"/><path stroke="#7060f8" d="M38 4h1M33 5h1M27 10h1M31 18h1M23 26h1M34 26h1M38 26h1M36 31h1M30 57h1M17 77h1M1 100h1M10 108h1M14 108h1M1 109h1M16 109h1M6 111h1M10 116h1M18 162h1"/><path stroke="#8880f8" d="M40 4h1M30 12h1M39 12h1M35 25h1M31 26h1M35 32h1M36 34h1M40 35h1M15 36h1M26 38h1M23 41h1M30 53h1M16 62h1M38 62h1M40 63h1M22 66h1M35 67h1M14 70h1M17 73h1M15 76h1M4 82h1M16 84h1M26 84h1M18 85h1M2 87h1M6 89h1M15 90h1M15 97h1M32 100h1M18 101h1M17 105h1M11 108h1M17 109h1M13 110h1M4 112h1M17 115h1M3 116h1M3 125h1M0 129h1M4 135h1M17 138h1M17 140h1M28 140h1M8 149h1M14 150h1M18 156h1M10 162h1M12 162h1"/><path stroke="#e8e8f0" d="M2 5h1M4 13h1M35 13h1M21 15h1M14 27h1M22 31h1M11 34h1M36 39h1M9 45h1M27 75h1M31 80h1M34 83h1M22 86h1M30 104h1M28 107h1M4 118h1M38 118h1M13 120h1M40 120h1M29 124h1M34 137h1M38 140h1M8 142h1M18 154h1M28 163h1M35 164h1M31 165h1"/><path stroke="#d0c0f8" d="M9 5h1M23 7h1M16 22h1M30 24h1M6 50h1M27 51h1M5 55h1M39 60h1M26 64h1M3 102h1M15 112h1M7 119h1M32 119h1M15 120h1M1 121h1"/><path stroke="#6050f8" d="M30 5h1M37 26h1M24 31h1M30 48h1M38 51h1M15 75h1M15 87h1M15 88h1M17 92h1M17 107h1M16 110h1M15 114h1"/><path stroke="#5850f8" d="M36 5h1M35 6h1M9 94h1M24 158h1"/><path stroke="#9080f8" d="M37 5h1M33 9h1M37 12h1M4 19h1M20 24h1M30 26h1M32 27h1M38 30h1M33 34h1M26 36h1M31 38h1M36 38h1M37 43h1M25 44h1M34 44h1M30 49h1M12 53h1M34 56h1M21 68h1M2 71h1M18 82h1M32 82h1M6 83h1M26 108h1M24 109h1M9 112h1M31 113h1M15 115h1M20 115h1M17 118h1M27 119h1M10 120h1M9 133h1M24 135h1M14 136h1M2 140h1M12 143h1M5 146h1M5 156h1"/><path stroke="#f88070" d="M7 6h1M18 7h1M1 9h1M5 13h1M10 14h1M16 16h1M0 29h1M31 32h1M26 33h1M6 37h1M12 41h1M1 54h1M13 58h1M38 86h1M24 88h1M38 98h1M36 101h1M40 111h1M37 130h1M26 134h1M29 138h1M36 141h1M31 155h1M24 161h1"/><path stroke="#f86858" d="M15 6h1M21 12h1M6 14h1M4 32h1M5 32h1M29 37h1M6 42h1M2 49h1M22 57h1M14 63h1M17 66h1M15 68h1M20 68h1M29 78h1M39 95h1M31 106h1M36 125h1M27 126h1M28 141h1M36 142h1M40 150h1M40 155h1"/><path stroke="#e0e0f0" d="M36 6h1M21 21h1M34 22h1M24 23h1M4 29h1M9 30h1M34 39h1M4 47h1M27 57h1M10 59h1M19 62h1M39 62h1M33 74h1M11 77h1M4 81h1M16 81h1M8 91h1M18 110h1M31 111h1M33 115h1M2 132h1M8 136h1M19 152h1M28 161h1M21 165h1"/><path stroke="#b0a0f8" d="M0 7h1M29 14h1M24 21h1M38 22h1M12 24h1M37 29h1M3 31h1M39 35h1M17 41h1M26 41h1M31 43h1M4 48h1M10 50h1M40 52h1M28 60h1M38 66h1M6 68h1M6 75h1M17 81h1M4 83h1M0 94h1M22 96h1M25 97h1M32 97h1M39 106h1M39 108h1M25 110h1M19 112h1M32 113h1M22 114h1M7 121h1M22 124h1M5 139h1M2 144h1M12 145h1M2 148h1M3 151h1M2 160h1M1 162h1M4 165h1"/><path stroke="#f85040" d="M5 8h1M12 21h1M15 28h1M8 37h1M11 39h1M12 40h1M25 55h1M6 64h1M15 66h1M39 94h1M36 104h1M29 118h1M37 129h1M39 133h1M35 141h1M35 149h1"/><path stroke="#f0e0e8" d="M31 8h1M17 9h1M20 10h1M13 14h1M3 15h1M15 19h1M1 20h1M32 21h1M6 25h1M18 26h1M30 28h1M2 29h1M21 29h1M2 30h1M30 31h1M19 32h1M30 32h1M21 35h1M6 36h1M24 41h1M0 44h1M10 46h1M19 46h1M24 47h1M18 48h1M40 50h1M23 51h1M29 52h1M0 54h1M26 54h1M27 56h1M15 57h1M5 60h1M22 60h1M37 62h1M39 63h1M8 64h1M14 66h1M33 67h1M11 68h1M4 69h1M8 69h1M17 70h1M20 70h1M30 71h1M34 73h1M13 74h1M20 74h1M10 77h1M1 79h1M32 79h1M2 82h1M37 82h1M3 83h1M7 83h1M27 83h1M18 84h1M19 84h1M33 85h1M5 88h1M32 89h1M20 90h1M25 92h1M10 99h1M2 101h1M31 104h1M4 106h1M23 110h1M13 111h1M24 111h1M37 114h1M6 116h1M10 118h1M4 119h1M10 121h1M3 122h1M5 124h1M5 126h1M7 128h1M19 129h1M27 132h1M36 134h1M20 135h1M23 135h1M16 138h1M21 142h1M25 142h1M38 144h1M3 147h1M6 149h1M24 150h1M5 151h1M6 151h1M25 156h1M33 158h1M5 159h1M32 159h1M19 160h1M15 164h1M1 165h1"/><path stroke="#f87068" d="M7 9h1M28 9h1M2 12h1M6 12h1M8 16h1M17 20h1M27 23h1M6 27h1M8 28h1M1 45h1M14 50h1M5 52h1M26 68h1M31 70h1M40 73h1M35 80h1M37 88h1M34 95h1M24 99h1M30 99h1M40 103h1M40 118h1M32 143h1M27 157h1"/><path stroke="#f83018" d="M15 10h1M29 160h1"/><path stroke="#f83020" d="M15 11h1M15 13h1M6 41h1M6 69h1M18 158h1"/><path stroke="#8878f8" d="M25 15h1M40 26h1M33 27h1M37 30h1M39 31h1M37 33h1M36 50h1M21 59h1M3 67h1M6 72h1M15 93h1M16 96h1M12 98h1M19 100h1M3 103h1M5 108h1M30 108h1M8 110h1M29 110h1M16 111h1M14 112h1M3 113h1M4 116h1M18 118h1M10 119h1M28 126h1M6 128h1M14 133h1M7 134h1M3 135h1M18 137h1M17 139h1M16 154h1M18 157h1M17 160h1M0 161h1M16 162h1"/><path stroke="#f0d8d8" d="M18 16h1M6 19h1M29 20h1M9 35h1M10 64h1M34 66h1M14 93h1M18 105h1M35 139h1M24 154h1M3 155h1M29 158h1"/><path stroke="#7068f8" d="M35 21h1M39 22h1M40 33h1M4 63h1M19 66h1M1 76h1M17 76h1M18 77h1M16 86h1M1 94h1M10 98h1M12 100h1M15 106h1M11 107h1M12 108h1M17 108h1M18 113h1M15 116h1M7 124h1M14 151h1M4 163h1"/><path stroke="#4038f8" d="M37 22h1"/><path stroke="#6860f8" d="M36 30h1M8 51h1M31 57h1M30 58h1M23 76h1M17 96h1M11 140h1M9 141h1M8 143h1"/><path stroke="#4838f8" d="M40 31h1M28 49h1M15 71h1M16 75h1M15 86h1M17 89h1M19 116h1M12 147h1"/><path stroke="#f83820" d="M13 34h1M40 110h1M32 121h1M39 122h1"/><path stroke="#5048f8" d="M37 34h1M2 72h1M15 72h1M17 80h1M23 164h1"/><path stroke="#d8c8f8" d="M18 39h1M24 62h1"/><path stroke="#f85850" d="M8 48h1M29 98h1M39 103h1M21 157h1"/><path stroke="#f81800" d="M31 58h1M31 96h1M31 97h1M31 98h1M31 99h1M18 146h1M18 149h1M18 150h1M18 151h1"/><path stroke="#f82008" d="M31 59h1M38 113h1M18 145h1M18 147h1M18 159h1"/><path stroke="#f82818" d="M31 60h1M15 62h1"/><path stroke="#f84028" d="M15 61h1M38 76h1"/><path stroke="#f88878" d="M20 64h1M9 68h1M27 77h1M7 78h1M32 80h1M34 96h1M39 110h1M8 132h1M35 142h1"/><path stroke="#f85048" d="M15 65h1"/><path stroke="#6058f8" d="M1 70h1M17 86h1M18 98h1M5 143h1M12 153h1"/><path stroke="#f86058" d="M32 78h1M38 108h1M33 113h1M35 127h1M36 138h1"/><path stroke="#3020f8" d="M15 80h1M15 98h1M15 109h1"/><path stroke="#2010f8" d="M15 81h1M15 82h1M15 99h1M15 100h1"/><path stroke="#d8d8f8" d="M34 82h1M35 102h1M4 131h1M16 147h1"/><path stroke="#4840f8" d="M16 92h1"/><path stroke="#f89080" d="M38 104h1"/><path stroke="#3828f8" d="M15 108h1"/><path stroke="#2818f8" d="M15 110h1M15 111h1"/><path stroke="#f83828" d="M34 119h1M37 122h1"/><path stroke="#f82810" d="M18 148h1"/></g><rect x="1160.9" y="516.5" width="6" height="5.9" fill="#add8e6"/><rect x="1160.9" y="522.6" width="6" height="5.9" fill="#0000ff"/><rect x="1160.9" y="537.7" width="6" height="5.9" fill="#ffa500"/><rect x="1160.9" y="543.7" width="6" height="5.9" fill="#ffff00"/><rect x="1160.9" y="558.7" width="6" height="5.9" fill="#00ff00"/><rect x="1160.9" y="564.8" width="6" height="5.9" fill="#ff0000"/><rect x="1160.9" y="579.6" width="6" height="5.9" fill="#ffc0cb"/><rect x="1160.9" y="585.7" width="6" height="5.9" fill="#a020f0"/><path d="M995.6 432.8V426.8H1058.7V431.6M971.6 436.3V432.8H1020.4V435.2M1032.0 442.4V431.6H1084.4V433.3M1049.4 437.2V433.3H1118.6V436.6M949.0 438.5V436.3H986.0V437.5M1016.0 438.0V435.2H1024.0V439.0M1038.0 439.5V437.2H1064.0V438.0M1105.0 438.5V436.6H1132.0V437.5M937.0 440.0V438.5H957.0V439.6M961.0 439.5V437.5H1004.0V439.0M1066.0 439.6V438.0H1097.0V439.4M1115.0 439.3V437.5H1150.0V439.4M932.0 442.6V440.4H937.6V442.6M934.8 440.4V439.2M943.2 442.6V438.8H948.7V442.6M946.0 438.8V437.6M954.3 442.6V439.4H959.9V442.6M957.1 439.4V438.2M965.5 442.6V439.4H971.1V442.6M968.3 439.4V438.2M976.7 442.6V440H982.3V442.6M979.5 440V438.8M987.8 442.6V440H993.4V442.6M990.6 440V438.8M999.0 442.6V440H1004.6V442.6M1001.8 440V438.8M1010.2 442.6V440H1015.8V442.6M1013.0 440V438.8M1021.4 442.6V438.8H1026.9V442.6M1024.2 438.8V437.6M1032.5 442.6V440H1038.1V442.6M1035.3 440V438.8M1043.7 442.6V438.8H1049.3V442.6M1046.5 438.8V437.6M1054.9 442.6V438.8H1066.0V442.6M1060.5 442.6V438.8M1060.5 438.8V437.6M1071.6 442.6V438.8H1077.2V442.6M1074.4 438.8V437.6M1082.8 442.6V440.4H1088.4V442.6M1085.6 440.4V439.2M1094.0 442.6V440H1099.6V442.6M1096.8 440V438.8M1105.1 442.6V440.4H1110.7V442.6M1107.9 440.4V439.2M1116.3 442.6V438.8H1121.9V442.6M1119.1 438.8V437.6M1127.5 442.6V440.4H1133.1V442.6M1130.3 440.4V439.2M1138.7 442.6V440H1149.8V442.6M1144.2 442.6V440M1144.2 440V438.8" fill="none" stroke="#222" stroke-width="0.55" shape-rendering="auto"/></svg>
<svg class="a" style="left:0;top:0" width="1600" height="900" viewBox="0 0 1600 900"><rect x="1205.8" y="423.8" width="147.2" height="124.0" fill="#fff"/><path d="M1222.5 438.0V536.3H1351.8" fill="none" stroke="#333" stroke-width="0.8"/><path d="M1221.3 442.5h1.2M1221.3 464.9h1.2M1221.3 487.2h1.2M1221.3 509.6h1.2M1221.3 532.0h1.2M1228.0 536.3v1.2M1257.5 536.3v1.2M1286.7 536.3v1.2M1316.3 536.3v1.2M1345.8 536.3v1.2" stroke="#333" stroke-width="0.5"/><path d="M1228.0 442.5L1234.7 442.5L1234.7 446.2L1240.3 446.2L1240.3 450.3L1243.3 450.3L1243.3 455.3L1328.8 455.3" fill="none" stroke="#f8766d" stroke-width="0.9" stroke-linejoin="miter"/><path d="M1228.0 442.5L1230.8 442.5L1230.8 449.5L1233.3 449.5L1233.3 456.3L1239.5 456.3L1239.5 464.5L1247.5 464.5L1247.5 474.2L1258.3 474.2L1258.3 497.2L1274.5 497.2L1274.5 508.7L1286.3 508.7L1286.3 520.3L1347.8 520.3" fill="none" stroke="#00bfc4" stroke-width="0.9" stroke-linejoin="miter"/><path d="M1277.0 430h4" stroke="#f8766d" stroke-width="0.7"/><path d="M1291.5 430h4" stroke="#00bfc4" stroke-width="0.7"/><rect x="1362.8" y="422.8" width="148.2" height="125.0" fill="#fff"/><path d="M1379.7 437.2V536.7H1509.3" fill="none" stroke="#333" stroke-width="0.8"/><path d="M1378.5 441.7h1.2M1378.5 464.3h1.2M1378.5 486.9h1.2M1378.5 509.4h1.2M1378.5 532.0h1.2M1385.3 536.7v1.2M1415.0 536.7v1.2M1444.2 536.7v1.2M1473.7 536.7v1.2M1503.3 536.7v1.2" stroke="#333" stroke-width="0.5"/><path d="M1385.3 441.7L1397.5 441.7L1397.5 446.2L1404.5 446.2L1404.5 451.3L1443.8 451.3L1443.8 467.5L1505.8 467.5" fill="none" stroke="#f8766d" stroke-width="0.9" stroke-linejoin="miter"/><path d="M1385.3 441.7L1388.3 441.7L1388.3 450.3L1390.3 450.3L1390.3 458.3L1392.3 458.3L1392.3 466.3L1396.3 466.3L1396.3 477.2L1400.5 477.2L1400.5 488.3L1415.3 488.3L1415.3 510.0L1431.5 510.0L1431.5 532.0" fill="none" stroke="#00bfc4" stroke-width="0.9" stroke-linejoin="miter"/><path d="M1435.0 429.5h4" stroke="#f8766d" stroke-width="0.7"/><path d="M1449.5 429.5h4" stroke="#00bfc4" stroke-width="0.7"/><rect x="1207" y="560.8" width="148.0" height="117.2" fill="#fff"/><path d="M1224.2 575.0V665.0H1353.5" fill="none" stroke="#333" stroke-width="0.8"/><path d="M1223.0 579.5h1.2M1223.0 600.0h1.2M1223.0 620.4h1.2M1223.0 640.8h1.2M1223.0 661.3h1.2M1229.7 665.0v1.2M1259.2 665.0v1.2M1288.7 665.0v1.2M1318.0 665.0v1.2M1347.5 665.0v1.2" stroke="#333" stroke-width="0.5"/><path d="M1230.0 579.5L1350.0 579.5" fill="none" stroke="#f8766d" stroke-width="0.9" stroke-linejoin="miter"/><path d="M1230.0 579.5L1232.5 579.5L1232.5 582.0L1234.5 582.0L1234.5 585.0L1236.7 585.0L1236.7 588.3L1241.3 588.3L1241.3 595.3L1244.5 595.3L1244.5 599.3L1248.7 599.3L1248.7 604.3L1259.7 604.3L1259.7 616.8L1276.2 616.8L1276.2 639.5L1288.3 639.5L1288.3 661.3" fill="none" stroke="#00bfc4" stroke-width="0.9" stroke-linejoin="miter"/><path d="M1279.5 567.5h4" stroke="#f8766d" stroke-width="0.7"/><path d="M1294.0 567.5h4" stroke="#00bfc4" stroke-width="0.7"/><rect x="1363.3" y="560.8" width="147.7" height="117.2" fill="#fff"/><path d="M1380.3 575.0V665.0H1509.3" fill="none" stroke="#333" stroke-width="0.8"/><path d="M1379.1 579.5h1.2M1379.1 600.0h1.2M1379.1 620.4h1.2M1379.1 640.8h1.2M1379.1 661.3h1.2M1385.8 665.0v1.2M1415.3 665.0v1.2M1444.7 665.0v1.2M1474.2 665.0v1.2M1503.3 665.0v1.2" stroke="#333" stroke-width="0.5"/><path d="M1386.2 579.5L1397.5 579.5L1397.5 612.2L1401.3 612.2L1401.3 628.3L1405.0 628.3L1405.0 644.7L1416.2 644.7L1416.2 661.3" fill="none" stroke="#f8766d" stroke-width="0.9" stroke-linejoin="miter"/><path d="M1386.2 579.5L1388.3 579.5L1388.3 581.7L1390.3 581.7L1390.3 584.2L1392.5 584.2L1392.5 587.2L1415.3 587.2L1415.3 592.5L1432.2 592.5L1432.2 604.3L1444.5 604.3L1444.5 615.5L1505.8 615.5" fill="none" stroke="#00bfc4" stroke-width="0.9" stroke-linejoin="miter"/><path d="M1435.5 567.5h4" stroke="#f8766d" stroke-width="0.7"/><path d="M1450.0 567.5h4" stroke="#00bfc4" stroke-width="0.7"/></svg>
<div class="t" style="left:1257.70px;top:14.92px;font-size:8.6px;line-height:11px;letter-spacing:0.205px;color:#8fcbc6;">30-31 Ottobre</div>
<div class="t" style="left:1257.70px;top:24.82px;font-size:8.6px;line-height:11px;letter-spacing:0.110px;color:#8fcbc6;">&amp; 1 Novembre 2020</div>
<div class="t" style="left:1258.50px;top:34.56px;font-size:13.4px;line-height:17px;font-weight:bold;color:#f6a330;transform:scaleX(0.9771);transform-origin:0 50%;">VIRTUAL</div>
<div class="t" style="left:1258.50px;top:45.86px;font-size:13.4px;line-height:17px;font-weight:bold;color:#f6a330;transform:scaleX(1.0506);transform-origin:0 50%;">MEETING</div>
<div class="t" style="left:1344.70px;top:11.09px;font-size:48.5px;line-height:61px;font-weight:bold;color:#14908c;transform:scaleX(0.8881);transform-origin:0 50%;-webkit-text-stroke:1px #14908c;">XXII</div>
<div class="t" style="left:1435.50px;top:22.64px;font-size:12px;line-height:15px;color:#5b80a4;transform:scaleX(0.8817);transform-origin:0 50%;">CONGRESSO NAZIONALE</div>
<div class="t" style="left:1433.80px;top:32.09px;font-size:23.7px;line-height:30px;font-weight:bold;color:#f6a330;transform:scaleX(1.1013);transform-origin:0 50%;">AIOM 2020</div>
<div class="t" style="left:1254.80px;top:69.95px;font-size:14px;line-height:18px;font-weight:bold;color:#2e9b4b;transform:scaleX(0.9505);transform-origin:0 50%;">Sistema Socio Sanitario</div>
<div class="t" style="left:1306.20px;top:95.94px;font-size:17.2px;line-height:22px;color:#1c1c1c;transform:scaleX(1.2135);transform-origin:0 50%;-webkit-text-stroke:0.3px #1c1c1c;">Regione</div>
<div class="t" style="left:1306.20px;top:113.64px;font-size:17.2px;line-height:22px;color:#1c1c1c;transform:scaleX(1.2362);transform-origin:0 50%;-webkit-text-stroke:0.3px #1c1c1c;">Lombardia</div>
<div class="t" style="left:1255.40px;top:142.40px;font-size:17.6px;line-height:22px;color:#1c1c1c;transform:scaleX(0.9053);transform-origin:0 50%;-webkit-text-stroke:0.3px #1c1c1c;">ASST</div>
<div class="t" style="left:1306.80px;top:142.40px;font-size:17.6px;line-height:22px;color:#1c1c1c;transform:scaleX(1.1339);transform-origin:0 50%;-webkit-text-stroke:0.3px #1c1c1c;">Spedali Civili</div>
<div class="t" style="left:1503.80px;top:96.67px;font-size:14.6px;line-height:18px;letter-spacing:0.861px;color:#5aa7c6;font-family:'Liberation Serif',serif;">U<span style="font-size:81%">NIVERSITÀ</span></div>
<div class="t" style="left:1503.80px;top:110.87px;font-size:14.6px;line-height:18px;letter-spacing:0.477px;color:#5aa7c6;font-family:'Liberation Serif',serif;">D<span style="font-size:81%">EGLI </span>S<span style="font-size:81%">TUDI</span></div>
<div class="t" style="left:1503.80px;top:124.67px;font-size:14.6px;line-height:18px;letter-spacing:0.481px;color:#5aa7c6;font-family:'Liberation Serif',serif;">D<span style="font-size:81%">I </span>B<span style="font-size:81%">RESCIA</span></div>
<div class="t" style="left:1384.50px;top:172.97px;font-size:12.2px;line-height:15px;letter-spacing:0.466px;font-weight:bold;color:#14146a;">"Angelo Nocivelli" Institute</div>
<div class="t" style="left:1384.50px;top:188.97px;font-size:12.2px;line-height:15px;letter-spacing:0.399px;font-weight:bold;color:#14146a;">of Molecular Medicine</div>
<div class="t" style="left:12.00px;top:7.09px;font-size:25px;line-height:31px;font-weight:bold;transform:scaleX(1.1152);transform-origin:0 50%;-webkit-text-stroke:0.4px #fff;">#3658 GENE EXPRESSION PROFILING TO IMPROVE PROGNOSTIC CHARACTERIZATION</div>
<div class="t" style="left:12.00px;top:38.84px;font-size:25px;line-height:31px;font-weight:bold;transform:scaleX(1.1170);transform-origin:0 50%;-webkit-text-stroke:0.4px #fff;">OF OLFACTORY NEUROBLASTOMA AND TO DEFINE NEW TARGETABLE PATHWAYS</div>
<div class="t" style="left:12.50px;top:70.15px;font-size:14px;line-height:18px;letter-spacing:-0.115px;">C. Romani<sup>1</sup>, L. Lorini<sup>2</sup>, E. Bignotti<sup>1</sup>, A. Ravaggi<sup>1</sup>, A. Paderno<sup>3</sup>, D. Mattavelli<sup>3</sup>, V. Rampinelli<sup>3</sup>, A. Schreiber<sup>3</sup>, M. Ferrari<sup>3</sup>, P. Nicolai<sup>4</sup>, A. Deganello<sup>3</sup>, M. Ravanelli<sup>5</sup>, L. Ardighieri<sup>6</sup>, A. Bozzola<sup>6</sup>, S. Battocchio<sup>6</sup>, P.</div>
<div class="t" style="left:12.50px;top:89.15px;font-size:14px;line-height:18px;letter-spacing:-0.158px;">Castelnuovo<sup>7</sup>, S. Calza<sup>8</sup>, S.M. Magrini<sup>9</sup>, M. Turri Zanoni<sup>7</sup>, P. Bossi<sup>2</sup></div>
<div class="t" style="left:12.50px;top:107.15px;font-size:14px;line-height:18px;letter-spacing:-0.032px;">1 Department of Obstetrics &amp; Gynecology, University of Brescia, "Angelo Nocivelli" Institute of Molecular Medicine, Brescia, Italy, 2 Medical Oncology Unit, Azienda Ospedaliera Spedali Civili di</div>
<div class="t" style="left:12.50px;top:124.65px;font-size:14px;line-height:18px;letter-spacing:-0.089px;">Brescia, Brescia, Italy, 3 Unit of Otorhinolaryngology - Head and Neck Surgery, Azienda Ospedaliera Spedali Civili di Brescia, Brescia, Italy, 4 Section of Otorhinolaryngology - Head and Neck Surgery,</div>
<div class="t" style="left:12.50px;top:142.65px;font-size:14px;line-height:18px;letter-spacing:-0.106px;">Department of Neurosciences, University of Padua, Padova, Italy, 5 Department of Radiology, Azienda Ospedaliera Spedali Civili di Brescia, Brescia, Italy, 6 Department of Pathology, Azienda</div>
<div class="t" style="left:12.50px;top:160.65px;font-size:14px;line-height:18px;letter-spacing:-0.066px;">Ospedaliera Spedali Civili di Brescia, Brescia, Italy, 7 Division of Otorhinolaryngology, Department of Biotechnology and Life Sciences, University of Insubria, Varese, Italy, 8 Department of Molecular</div>
<div class="t" style="left:12.50px;top:179.15px;font-size:14px;line-height:18px;letter-spacing:-0.119px;">and Translational Medicine,, University of Brescia, Brescia, Italy, 9 Department of Radiation Oncology, Azienda Ospedaliera Spedali Civili di Brescia, Brescia, Italy</div>
<div class="t" style="left:114.70px;top:218.22px;font-size:21.6px;line-height:27px;font-weight:bold;color:#2565ae;transform:scaleX(1.1221);transform-origin:0 50%;text-shadow:-1.1px -1.1px 0 #0c2e6c,-1.1px 0px 0 #0c2e6c,-1.1px 1.1px 0 #0c2e6c,0px -1.1px 0 #0c2e6c,0px 1.1px 0 #0c2e6c,1.1px -1.1px 0 #0c2e6c,1.1px 0px 0 #0c2e6c,1.1px 1.1px 0 #0c2e6c;">BACKGROUND</div>
<div class="t" style="left:47.00px;top:492.22px;font-size:21.6px;line-height:27px;font-weight:bold;color:#2565ae;transform:scaleX(1.1397);transform-origin:0 50%;text-shadow:-1.1px -1.1px 0 #0c2e6c,-1.1px 0px 0 #0c2e6c,-1.1px 1.1px 0 #0c2e6c,0px -1.1px 0 #0c2e6c,0px 1.1px 0 #0c2e6c,1.1px -1.1px 0 #0c2e6c,1.1px 0px 0 #0c2e6c,1.1px 1.1px 0 #0c2e6c;">MATERIAL AND METHODS</div>
<div class="t" style="left:946.60px;top:217.02px;font-size:21.6px;line-height:27px;font-weight:bold;color:#2565ae;transform:scaleX(1.0526);transform-origin:0 50%;text-shadow:-1.1px -1.1px 0 #0c2e6c,-1.1px 0px 0 #0c2e6c,-1.1px 1.1px 0 #0c2e6c,0px -1.1px 0 #0c2e6c,0px 1.1px 0 #0c2e6c,1.1px -1.1px 0 #0c2e6c,1.1px 0px 0 #0c2e6c,1.1px 1.1px 0 #0c2e6c;">RESULTS</div>
<div class="t" style="left:1148.80px;top:727.22px;font-size:21.6px;line-height:27px;font-weight:bold;color:#2565ae;transform:scaleX(1.1506);transform-origin:0 50%;text-shadow:-1.1px -1.1px 0 #0c2e6c,-1.1px 0px 0 #0c2e6c,-1.1px 1.1px 0 #0c2e6c,0px -1.1px 0 #0c2e6c,0px 1.1px 0 #0c2e6c,1.1px -1.1px 0 #0c2e6c,1.1px 0px 0 #0c2e6c,1.1px 1.1px 0 #0c2e6c;">CONCLUSIONS</div>
<div class="t" style="left:35.50px;top:265.14px;font-size:16.2px;line-height:20px;word-spacing:11.613px;">Olfactory neuroblastoma (ONB) is a rare</div>
<div class="t" style="left:35.50px;top:287.30px;font-size:16.2px;line-height:20px;word-spacing:7.120px;">neoplasm of sinonasal tract with a peculiar</div>
<div class="t" style="left:35.50px;top:309.46px;font-size:16.2px;line-height:20px;letter-spacing:0.264px;">behaviour;</div>
<div class="t" style="left:40.00px;top:331.62px;font-size:16.2px;line-height:20px;word-spacing:14.504px;">Limited prognostic factors are available,</div>
<div class="t" style="left:35.50px;top:353.78px;font-size:16.2px;line-height:20px;word-spacing:10.700px;">consisting in stage, grading (according to</div>
<div class="t" style="left:35.50px;top:375.94px;font-size:16.2px;line-height:20px;letter-spacing:0.140px;">Hyams' criteria) and Ki67 value;</div>
<div class="t" style="left:35.50px;top:398.10px;font-size:16.2px;line-height:20px;word-spacing:3.917px;">The project aims at studying the pathways of</div>
<div class="t" style="left:35.50px;top:420.26px;font-size:16.2px;line-height:20px;word-spacing:7.100px;">ONB through gene expression analysis and</div>
<div class="t" style="left:35.50px;top:442.42px;font-size:16.2px;line-height:20px;letter-spacing:0.391px;">correlating them with clinical outcome.</div>
<div class="t" style="left:38.25px;top:533.29px;font-size:16.2px;line-height:20px;word-spacing:4.538px;">We retrospectively evaluated a series of&nbsp; 42</div>
<div class="t" style="left:38.25px;top:555.31px;font-size:16.2px;line-height:20px;word-spacing:6.594px;">ONB* patient treated with curative intent at</div>
<div class="t" style="left:38.25px;top:577.33px;font-size:16.2px;line-height:20px;word-spacing:4.455px;">the ENT of ASST Spedali Civili, Brescia and</div>
<div class="t" style="left:38.25px;top:599.35px;font-size:16.2px;line-height:20px;word-spacing:9.053px;">Ospedale di Circolo Varese, Italy between</div>
<div class="t" style="left:38.25px;top:621.37px;font-size:16.2px;line-height:20px;word-spacing:4.873px;">2001 and 2019; Clinical data of the patients</div>
<div class="t" style="left:38.25px;top:643.39px;font-size:16.2px;line-height:20px;word-spacing:15.656px;">were retrieved, as well as histological</div>
<div class="t" style="left:38.25px;top:665.41px;font-size:16.2px;line-height:20px;word-spacing:2.918px;">specimens, whose diagnosis was re-evaluated</div>
<div class="t" style="left:38.25px;top:687.43px;font-size:16.2px;line-height:20px;letter-spacing:0.327px;">by two expert pathologists;</div>
<div class="t" style="left:38.25px;top:709.45px;font-size:16.2px;line-height:20px;word-spacing:7.250px;">We performed gene expression profiling on</div>
<div class="t" style="left:38.25px;top:731.47px;font-size:16.2px;line-height:20px;word-spacing:9.069px;">FFPE samples using Affymetrix Clariom S</div>
<div class="t" style="left:38.25px;top:753.49px;font-size:16.2px;line-height:20px;word-spacing:19.867px;">microarray, and carried out functional</div>
<div class="t" style="left:38.25px;top:775.51px;font-size:16.2px;line-height:20px;word-spacing:2.522px;">enrichment analysis (GSEA) to investigate key</div>
<div class="t" style="left:38.25px;top:797.53px;font-size:16.2px;line-height:20px;word-spacing:13.193px;">pathways associated with progression-free</div>
<div class="t" style="left:38.25px;top:819.55px;font-size:16.2px;line-height:20px;letter-spacing:-0.376px;">survival (PFS).</div>
<div class="t" style="left:15.00px;top:840.20px;font-size:11.7px;line-height:15px;word-spacing:3.695px;">*: one patient was excluded from final data analysis due to poor</div>
<div class="t" style="left:15.00px;top:857.20px;font-size:11.7px;line-height:15px;letter-spacing:0.002px;">quality sample.</div>
<div class="t" style="left:431.25px;top:260.14px;font-size:16.2px;line-height:20px;word-spacing:3.013px;">Characteristics of the cohort: mainly male (54%); median</div>
<div class="t" style="left:431.25px;top:282.08px;font-size:16.2px;line-height:20px;word-spacing:2.197px;">age 53 years; stage: I-II 17%, III-IV 83%; Hyams grade: I</div>
<div class="t" style="left:431.25px;top:304.02px;font-size:16.2px;line-height:20px;word-spacing:0.666px;">5%, II 46%, III 49%. Patients were treated by surgery; 79%</div>
<div class="t" style="left:431.25px;top:325.96px;font-size:16.2px;line-height:20px;word-spacing:7.981px;">received postoperative radiation; One patient received</div>
<div class="t" style="left:431.25px;top:347.90px;font-size:16.2px;line-height:20px;word-spacing:6.701px;">also neoadjuvant chemotherapy. After a median follow</div>
<div class="t" style="left:431.25px;top:369.84px;font-size:16.2px;line-height:20px;word-spacing:2.634px;">up of 51 months, we identified disease progression in 12</div>
<div class="t" style="left:431.25px;top:391.78px;font-size:16.2px;line-height:20px;letter-spacing:0.019px;">cases. Median PFS was 38.8 months (5 - 99) (Table 1);</div>
<div class="t" style="left:431.25px;top:413.72px;font-size:16.2px;line-height:20px;word-spacing:10.512px;">Clinical characteristics (gender, global stage, Hyams</div>
<div class="t" style="left:431.25px;top:435.66px;font-size:16.2px;line-height:20px;word-spacing:5.002px;">grade, T stage and N stage) were not associated with</div>
<div class="t" style="left:431.25px;top:457.60px;font-size:16.2px;line-height:20px;letter-spacing:0.365px;">outcome in term of recurrence (Table 2).</div>
<div class="t" style="left:891.25px;top:258.14px;font-size:16.2px;line-height:20px;word-spacing:4.806px;">The top genes selected based on PFS association (Figure 1A) were included in GSEA:</div>
<div class="t" style="left:891.25px;top:280.31px;font-size:16.2px;line-height:20px;word-spacing:4.812px;"><b>patients experiencing recurrence</b> had a disease characterized by enrichment mainly in</div>
<div class="t" style="left:891.25px;top:302.48px;font-size:16.2px;line-height:20px;word-spacing:8.971px;">pathways related to <u>TGF-beta binding</u>, <u>epithelial-mesenchimal transition, regulation of</u></div>
<div class="t" style="left:891.25px;top:324.65px;font-size:16.2px;line-height:20px;word-spacing:7.503px;"><u>cytokine biosynthesis</u>, <u>toll-like receptor 4</u>, <u>PIP3</u>, <u>p-53 mediated apoptosis signalling in</u></div>
<div class="t" style="left:891.25px;top:346.82px;font-size:16.2px;line-height:20px;word-spacing:1.304px;"><u>response to DNA damage</u>, <u>TNF</u> and <u>IFN alfa</u>; <b>patients without any recurrence</b> after surgery</div>
<div class="t" style="left:891.25px;top:368.99px;font-size:16.2px;line-height:20px;word-spacing:2.405px;">showed increased expression of <u>genes related to DNA methylation</u>, <u>ubiquitin ligase complex</u></div>
<div class="t" style="left:891.25px;top:391.16px;font-size:16.2px;line-height:20px;letter-spacing:0.204px;">and <u>retinoid acid binding</u> (Figure 1B).</div>
<div class="t" style="left:898.00px;top:767.28px;font-size:16.8px;line-height:21px;word-spacing:0.229px;">ONB is characterized by heterogeneous gene expression. Enrichment in pathways related to</div>
<div class="t" style="left:898.00px;top:790.48px;font-size:16.8px;line-height:21px;word-spacing:6.411px;">TGF-beta binding, regulation of cytokine biosynthesis, toll-like receptor 4, PIP3, p-53</div>
<div class="t" style="left:898.00px;top:813.68px;font-size:16.8px;line-height:21px;word-spacing:1.868px;">mediated apoptosis signalling in response to DNA damage, TNF and IFN alfa is related to</div>
<div class="t" style="left:898.00px;top:836.88px;font-size:16.8px;line-height:21px;word-spacing:0.774px;">higher risk of relapse after surgery. Definition of characterizing transcriptomic pathways may</div>
<div class="t" style="left:898.00px;top:860.08px;font-size:16.8px;line-height:21px;letter-spacing:0.123px;">pave the way to tailored treatment approaches.</div>
<div class="t" style="left:937.60px;top:679.21px;font-size:9.2px;line-height:12px;word-spacing:2.135px;">Figure 1. (A) Columns of the heatmap represent the samples with annotated clinicopathological characteristics. Rows of the heatmap</div>
<div class="t" style="left:937.60px;top:690.81px;font-size:9.2px;line-height:12px;word-spacing:-0.260px;">represent the top genes selected based on PFS association; (B) Kaplan-Meier based on optimally selected cut-off of geneset global expression</div>
<div class="t" style="left:937.60px;top:702.21px;font-size:9.2px;line-height:12px;letter-spacing:0.026px;">(GSVA algorithm).</div>
<div class="t" style="left:422.80px;top:839.17px;font-size:9.6px;line-height:12px;word-spacing:3.264px;">Table 1. Characteristics of ONB</div>
<div class="t" style="left:422.80px;top:850.67px;font-size:9.6px;line-height:12px;letter-spacing:-0.389px;">patients</div>
<div class="t" style="left:594.10px;top:839.17px;font-size:9.6px;line-height:12px;word-spacing:0.376px;">Table 2. Correlation between recurrence and characteristics of</div>
<div class="t" style="left:594.10px;top:850.67px;font-size:9.6px;line-height:12px;letter-spacing:-0.080px;">ONB patients</div>
<div class="t" style="left:593.30px;top:808.77px;font-size:7.6px;line-height:10px;letter-spacing:0.065px;"><sup style='font-size:5px'>1</sup>Fisher's Exact Test for Count Data</div>
<div class="t" style="left:932.20px;top:410.75px;font-size:8.8px;line-height:11px;color:#111;">A</div>
<div class="t" style="left:1197.00px;top:410.38px;font-size:9px;line-height:11px;color:#111;">B</div>
<div class="t" style="left:1257.50px;top:410.72px;font-size:8.6px;line-height:11px;letter-spacing:-0.486px;color:#111;">TGF BETA</div>
<div class="t" style="left:1380.50px;top:409.72px;font-size:8.6px;line-height:11px;letter-spacing:-0.238px;color:#111;">PHOSPHATIDYLINOSITOL 3</div>
<div class="t" style="left:1258.00px;top:548.82px;font-size:8.6px;line-height:11px;letter-spacing:-0.180px;color:#111;">CITOKINE</div>
<div class="t" style="left:1414.00px;top:549.02px;font-size:8.6px;line-height:11px;letter-spacing:-0.128px;color:#111;">UBIQUITIN</div>
<div class="t" style="left:444.40px;top:488.74px;font-size:10.0px;line-height:12px;letter-spacing:-0.100px;color:#1c1c1c;width:100px;text-align:center;">Overall (N=41)</div>
<div class="t" style="left:425.40px;top:502.97px;font-size:10.0px;line-height:12px;letter-spacing:-0.100px;font-weight:bold;color:#111;">Gender</div>
<div class="t" style="left:433.40px;top:517.90px;font-size:10.0px;line-height:12px;color:#1c1c1c;">F</div>
<div class="t" style="left:503.70px;top:517.90px;font-size:10.0px;line-height:12px;letter-spacing:-0.450px;color:#1c1c1c;width:80px;text-align:center;">19 (46.3%)</div>
<div class="t" style="left:433.40px;top:532.83px;font-size:10.0px;line-height:12px;color:#1c1c1c;">M</div>
<div class="t" style="left:503.70px;top:532.83px;font-size:10.0px;line-height:12px;letter-spacing:-0.450px;color:#1c1c1c;width:80px;text-align:center;">22 (53.7%)</div>
<div class="t" style="left:425.40px;top:547.76px;font-size:10.0px;line-height:12px;letter-spacing:-0.100px;font-weight:bold;color:#111;">Global Stage</div>
<div class="t" style="left:433.40px;top:562.69px;font-size:10.0px;line-height:12px;color:#1c1c1c;">I-II</div>
<div class="t" style="left:503.70px;top:562.69px;font-size:10.0px;line-height:12px;letter-spacing:-0.450px;color:#1c1c1c;width:80px;text-align:center;">7 (17.1%)</div>
<div class="t" style="left:433.40px;top:577.62px;font-size:10.0px;line-height:12px;color:#1c1c1c;">III-IV</div>
<div class="t" style="left:503.70px;top:577.62px;font-size:10.0px;line-height:12px;letter-spacing:-0.450px;color:#1c1c1c;width:80px;text-align:center;">34 (82.9%)</div>
<div class="t" style="left:425.40px;top:592.55px;font-size:10.0px;line-height:12px;letter-spacing:-0.100px;font-weight:bold;color:#111;">Hyams grade</div>
<div class="t" style="left:433.40px;top:607.48px;font-size:10.0px;line-height:12px;color:#1c1c1c;">I</div>
<div class="t" style="left:503.70px;top:607.48px;font-size:10.0px;line-height:12px;letter-spacing:-0.450px;color:#1c1c1c;width:80px;text-align:center;">2 (4.9%)</div>
<div class="t" style="left:433.40px;top:622.41px;font-size:10.0px;line-height:12px;color:#1c1c1c;">II</div>
<div class="t" style="left:503.70px;top:622.41px;font-size:10.0px;line-height:12px;letter-spacing:-0.450px;color:#1c1c1c;width:80px;text-align:center;">19 (46.3%)</div>
<div class="t" style="left:433.40px;top:637.34px;font-size:10.0px;line-height:12px;color:#1c1c1c;">III</div>
<div class="t" style="left:503.70px;top:637.34px;font-size:10.0px;line-height:12px;letter-spacing:-0.450px;color:#1c1c1c;width:80px;text-align:center;">20 (48.8%)</div>
<div class="t" style="left:425.40px;top:652.27px;font-size:10.0px;line-height:12px;letter-spacing:-0.100px;font-weight:bold;color:#111;">Recurrence</div>
<div class="t" style="left:433.40px;top:667.20px;font-size:10.0px;line-height:12px;color:#1c1c1c;">No</div>
<div class="t" style="left:503.70px;top:667.20px;font-size:10.0px;line-height:12px;letter-spacing:-0.450px;color:#1c1c1c;width:80px;text-align:center;">30 (73.2%)</div>
<div class="t" style="left:433.40px;top:682.13px;font-size:10.0px;line-height:12px;color:#1c1c1c;">Yes</div>
<div class="t" style="left:503.70px;top:682.13px;font-size:10.0px;line-height:12px;letter-spacing:-0.450px;color:#1c1c1c;width:80px;text-align:center;">11 (26.8%)</div>
<div class="t" style="left:425.40px;top:697.06px;font-size:10.0px;line-height:12px;letter-spacing:-0.100px;font-weight:bold;color:#111;">T stage</div>
<div class="t" style="left:433.40px;top:711.99px;font-size:10.0px;line-height:12px;color:#1c1c1c;">1</div>
<div class="t" style="left:503.70px;top:711.99px;font-size:10.0px;line-height:12px;letter-spacing:-0.450px;color:#1c1c1c;width:80px;text-align:center;">2 (4.9%)</div>
<div class="t" style="left:433.40px;top:726.92px;font-size:10.0px;line-height:12px;color:#1c1c1c;">2</div>
<div class="t" style="left:503.70px;top:726.92px;font-size:10.0px;line-height:12px;letter-spacing:-0.450px;color:#1c1c1c;width:80px;text-align:center;">5 (12.2%)</div>
<div class="t" style="left:433.40px;top:741.85px;font-size:10.0px;line-height:12px;color:#1c1c1c;">3</div>
<div class="t" style="left:503.70px;top:741.85px;font-size:10.0px;line-height:12px;letter-spacing:-0.450px;color:#1c1c1c;width:80px;text-align:center;">10 (24.4%)</div>
<div class="t" style="left:433.40px;top:756.78px;font-size:10.0px;line-height:12px;color:#1c1c1c;">4a</div>
<div class="t" style="left:503.70px;top:756.78px;font-size:10.0px;line-height:12px;letter-spacing:-0.450px;color:#1c1c1c;width:80px;text-align:center;">1 (2.4%)</div>
<div class="t" style="left:433.40px;top:771.71px;font-size:10.0px;line-height:12px;color:#1c1c1c;">4b</div>
<div class="t" style="left:503.70px;top:771.71px;font-size:10.0px;line-height:12px;letter-spacing:-0.450px;color:#1c1c1c;width:80px;text-align:center;">23 (56.1%)</div>
<div class="t" style="left:425.40px;top:786.64px;font-size:10.0px;line-height:12px;letter-spacing:-0.100px;font-weight:bold;color:#111;">N stage</div>
<div class="t" style="left:433.40px;top:801.57px;font-size:10.0px;line-height:12px;color:#1c1c1c;">0</div>
<div class="t" style="left:503.70px;top:801.57px;font-size:10.0px;line-height:12px;letter-spacing:-0.450px;color:#1c1c1c;width:80px;text-align:center;">40 (97.6%)</div>
<div class="t" style="left:433.40px;top:816.50px;font-size:10.0px;line-height:12px;color:#1c1c1c;">2b</div>
<div class="t" style="left:503.70px;top:816.50px;font-size:10.0px;line-height:12px;letter-spacing:-0.450px;color:#1c1c1c;width:80px;text-align:center;">1 (2.4%)</div>
<div class="t" style="left:593.40px;top:484.31px;font-size:9.5px;line-height:12px;letter-spacing:-0.335px;color:#1c1c1c;">Recurrence (Yes/No)</div>
<div class="t" style="left:633.60px;top:499.71px;font-size:9.5px;line-height:12px;color:#1c1c1c;width:80px;text-align:center;">No (N=30)</div>
<div class="t" style="left:689.60px;top:499.71px;font-size:9.5px;line-height:12px;color:#1c1c1c;width:80px;text-align:center;">Yes (N=11)</div>
<div class="t" style="left:746.40px;top:499.71px;font-size:9.5px;line-height:12px;color:#1c1c1c;width:80px;text-align:center;">Total (N=41)</div>
<div class="t" style="left:809.00px;top:499.71px;font-size:9.5px;line-height:12px;color:#1c1c1c;width:60px;text-align:right;">p value</div>
<div class="t" style="left:592.20px;top:512.91px;font-size:9.5px;line-height:12px;font-weight:bold;color:#1a1a1a;">Gender</div>
<div class="t" style="left:807.40px;top:512.91px;font-size:9.5px;line-height:12px;letter-spacing:-0.400px;color:#1c1c1c;width:62px;text-align:right;">0.499<sup style='font-size:7px;top:-0.55em;letter-spacing:0'>1</sup></div>
<div class="t" style="left:599.00px;top:527.11px;font-size:9.5px;line-height:12px;color:#1c1c1c;">F</div>
<div class="t" style="left:633.60px;top:527.11px;font-size:9.5px;line-height:12px;letter-spacing:-0.450px;color:#1c1c1c;width:80px;text-align:center;">15 (50.0%)</div>
<div class="t" style="left:689.60px;top:527.11px;font-size:9.5px;line-height:12px;letter-spacing:-0.450px;color:#1c1c1c;width:80px;text-align:center;">4 (36.4%)</div>
<div class="t" style="left:746.40px;top:527.11px;font-size:9.5px;line-height:12px;letter-spacing:-0.450px;color:#1c1c1c;width:80px;text-align:center;">19 (46.3%)</div>
<div class="t" style="left:599.00px;top:541.31px;font-size:9.5px;line-height:12px;color:#1c1c1c;">M</div>
<div class="t" style="left:633.60px;top:541.31px;font-size:9.5px;line-height:12px;letter-spacing:-0.450px;color:#1c1c1c;width:80px;text-align:center;">15 (50.0%)</div>
<div class="t" style="left:689.60px;top:541.31px;font-size:9.5px;line-height:12px;letter-spacing:-0.450px;color:#1c1c1c;width:80px;text-align:center;">7 (63.6%)</div>
<div class="t" style="left:746.40px;top:541.31px;font-size:9.5px;line-height:12px;letter-spacing:-0.450px;color:#1c1c1c;width:80px;text-align:center;">22 (53.7%)</div>
<div class="t" style="left:592.20px;top:555.51px;font-size:9.5px;line-height:12px;font-weight:bold;color:#1a1a1a;">Global</div>
<div class="t" style="left:592.20px;top:566.51px;font-size:9.5px;line-height:12px;font-weight:bold;color:#1a1a1a;">Stage</div>
<div class="t" style="left:807.40px;top:555.51px;font-size:9.5px;line-height:12px;letter-spacing:-0.400px;color:#1c1c1c;width:62px;text-align:right;">0.160<sup style='font-size:7px;top:-0.55em;letter-spacing:0'>1</sup></div>
<div class="t" style="left:599.00px;top:581.01px;font-size:9.5px;line-height:12px;color:#1c1c1c;">I-II</div>
<div class="t" style="left:633.60px;top:581.01px;font-size:9.5px;line-height:12px;letter-spacing:-0.450px;color:#1c1c1c;width:80px;text-align:center;">7 (23.3%)</div>
<div class="t" style="left:689.60px;top:581.01px;font-size:9.5px;line-height:12px;letter-spacing:-0.450px;color:#1c1c1c;width:80px;text-align:center;">0 (0.0%)</div>
<div class="t" style="left:746.40px;top:581.01px;font-size:9.5px;line-height:12px;letter-spacing:-0.450px;color:#1c1c1c;width:80px;text-align:center;">7 (17.1%)</div>
<div class="t" style="left:599.00px;top:595.21px;font-size:9.5px;line-height:12px;color:#1c1c1c;">III-IV</div>
<div class="t" style="left:633.60px;top:595.21px;font-size:9.5px;line-height:12px;letter-spacing:-0.450px;color:#1c1c1c;width:80px;text-align:center;">23 (76.7%)</div>
<div class="t" style="left:689.60px;top:595.21px;font-size:9.5px;line-height:12px;letter-spacing:-0.450px;color:#1c1c1c;width:80px;text-align:center;">11 (100.0%)</div>
<div class="t" style="left:746.40px;top:595.21px;font-size:9.5px;line-height:12px;letter-spacing:-0.450px;color:#1c1c1c;width:80px;text-align:center;">34 (82.9%)</div>
<div class="t" style="left:592.20px;top:609.41px;font-size:9.5px;line-height:12px;font-weight:bold;color:#1a1a1a;">Hyams</div>
<div class="t" style="left:592.20px;top:620.41px;font-size:9.5px;line-height:12px;font-weight:bold;color:#1a1a1a;">grade</div>
<div class="t" style="left:807.40px;top:609.41px;font-size:9.5px;line-height:12px;letter-spacing:-0.400px;color:#1c1c1c;width:62px;text-align:right;">1.000<sup style='font-size:7px;top:-0.55em;letter-spacing:0'>1</sup></div>
<div class="t" style="left:599.00px;top:634.91px;font-size:9.5px;line-height:12px;color:#1c1c1c;">I</div>
<div class="t" style="left:633.60px;top:634.91px;font-size:9.5px;line-height:12px;letter-spacing:-0.450px;color:#1c1c1c;width:80px;text-align:center;">2 (6.7%)</div>
<div class="t" style="left:689.60px;top:634.91px;font-size:9.5px;line-height:12px;letter-spacing:-0.450px;color:#1c1c1c;width:80px;text-align:center;">0 (0.0%)</div>
<div class="t" style="left:746.40px;top:634.91px;font-size:9.5px;line-height:12px;letter-spacing:-0.450px;color:#1c1c1c;width:80px;text-align:center;">2 (4.9%)</div>
<div class="t" style="left:599.00px;top:649.11px;font-size:9.5px;line-height:12px;color:#1c1c1c;">II</div>
<div class="t" style="left:633.60px;top:649.11px;font-size:9.5px;line-height:12px;letter-spacing:-0.450px;color:#1c1c1c;width:80px;text-align:center;">14 (46.7%)</div>
<div class="t" style="left:689.60px;top:649.11px;font-size:9.5px;line-height:12px;letter-spacing:-0.450px;color:#1c1c1c;width:80px;text-align:center;">5 (45.5%)</div>
<div class="t" style="left:746.40px;top:649.11px;font-size:9.5px;line-height:12px;letter-spacing:-0.450px;color:#1c1c1c;width:80px;text-align:center;">19 (46.3%)</div>
<div class="t" style="left:599.00px;top:663.31px;font-size:9.5px;line-height:12px;color:#1c1c1c;">III</div>
<div class="t" style="left:633.60px;top:663.31px;font-size:9.5px;line-height:12px;letter-spacing:-0.450px;color:#1c1c1c;width:80px;text-align:center;">14 (46.7%)</div>
<div class="t" style="left:689.60px;top:663.31px;font-size:9.5px;line-height:12px;letter-spacing:-0.450px;color:#1c1c1c;width:80px;text-align:center;">6 (54.5%)</div>
<div class="t" style="left:746.40px;top:663.31px;font-size:9.5px;line-height:12px;letter-spacing:-0.450px;color:#1c1c1c;width:80px;text-align:center;">20 (48.8%)</div>
<div class="t" style="left:592.20px;top:677.51px;font-size:9.5px;line-height:12px;font-weight:bold;color:#1a1a1a;">T stage</div>
<div class="t" style="left:807.40px;top:677.51px;font-size:9.5px;line-height:12px;letter-spacing:-0.400px;color:#1c1c1c;width:62px;text-align:right;">0.314<sup style='font-size:7px;top:-0.55em;letter-spacing:0'>1</sup></div>
<div class="t" style="left:599.00px;top:691.71px;font-size:9.5px;line-height:12px;color:#1c1c1c;">1</div>
<div class="t" style="left:633.60px;top:691.71px;font-size:9.5px;line-height:12px;letter-spacing:-0.450px;color:#1c1c1c;width:80px;text-align:center;">2 (6.7%)</div>
<div class="t" style="left:689.60px;top:691.71px;font-size:9.5px;line-height:12px;letter-spacing:-0.450px;color:#1c1c1c;width:80px;text-align:center;">0 (0.0%)</div>
<div class="t" style="left:746.40px;top:691.71px;font-size:9.5px;line-height:12px;letter-spacing:-0.450px;color:#1c1c1c;width:80px;text-align:center;">2 (4.9%)</div>
<div class="t" style="left:599.00px;top:705.91px;font-size:9.5px;line-height:12px;color:#1c1c1c;">2</div>
<div class="t" style="left:633.60px;top:705.91px;font-size:9.5px;line-height:12px;letter-spacing:-0.450px;color:#1c1c1c;width:80px;text-align:center;">5 (16.7%)</div>
<div class="t" style="left:689.60px;top:705.91px;font-size:9.5px;line-height:12px;letter-spacing:-0.450px;color:#1c1c1c;width:80px;text-align:center;">0 (0.0%)</div>
<div class="t" style="left:746.40px;top:705.91px;font-size:9.5px;line-height:12px;letter-spacing:-0.450px;color:#1c1c1c;width:80px;text-align:center;">5 (12.2%)</div>
<div class="t" style="left:599.00px;top:720.11px;font-size:9.5px;line-height:12px;color:#1c1c1c;">3</div>
<div class="t" style="left:633.60px;top:720.11px;font-size:9.5px;line-height:12px;letter-spacing:-0.450px;color:#1c1c1c;width:80px;text-align:center;">7 (23.3%)</div>
<div class="t" style="left:689.60px;top:720.11px;font-size:9.5px;line-height:12px;letter-spacing:-0.450px;color:#1c1c1c;width:80px;text-align:center;">3 (27.3%)</div>
<div class="t" style="left:746.40px;top:720.11px;font-size:9.5px;line-height:12px;letter-spacing:-0.450px;color:#1c1c1c;width:80px;text-align:center;">10 (24.4%)</div>
<div class="t" style="left:599.00px;top:734.31px;font-size:9.5px;line-height:12px;color:#1c1c1c;">4a</div>
<div class="t" style="left:633.60px;top:734.31px;font-size:9.5px;line-height:12px;letter-spacing:-0.450px;color:#1c1c1c;width:80px;text-align:center;">0 (0.0%)</div>
<div class="t" style="left:689.60px;top:734.31px;font-size:9.5px;line-height:12px;letter-spacing:-0.450px;color:#1c1c1c;width:80px;text-align:center;">1 (9.1%)</div>
<div class="t" style="left:746.40px;top:734.31px;font-size:9.5px;line-height:12px;letter-spacing:-0.450px;color:#1c1c1c;width:80px;text-align:center;">1 (2.4%)</div>
<div class="t" style="left:599.00px;top:748.51px;font-size:9.5px;line-height:12px;color:#1c1c1c;">4b</div>
<div class="t" style="left:633.60px;top:748.51px;font-size:9.5px;line-height:12px;letter-spacing:-0.450px;color:#1c1c1c;width:80px;text-align:center;">16 (53.3%)</div>
<div class="t" style="left:689.60px;top:748.51px;font-size:9.5px;line-height:12px;letter-spacing:-0.450px;color:#1c1c1c;width:80px;text-align:center;">7 (63.6%)</div>
<div class="t" style="left:746.40px;top:748.51px;font-size:9.5px;line-height:12px;letter-spacing:-0.450px;color:#1c1c1c;width:80px;text-align:center;">23 (56.1%)</div>
<div class="t" style="left:592.20px;top:762.71px;font-size:9.5px;line-height:12px;font-weight:bold;color:#1a1a1a;">N stage</div>
<div class="t" style="left:807.40px;top:762.71px;font-size:9.5px;line-height:12px;letter-spacing:-0.400px;color:#1c1c1c;width:62px;text-align:right;">1.000<sup style='font-size:7px;top:-0.55em;letter-spacing:0'>1</sup></div>
<div class="t" style="left:599.00px;top:776.91px;font-size:9.5px;line-height:12px;color:#1c1c1c;">0</div>
<div class="t" style="left:633.60px;top:776.91px;font-size:9.5px;line-height:12px;letter-spacing:-0.450px;color:#1c1c1c;width:80px;text-align:center;">29 (96.7%)</div>
<div class="t" style="left:689.60px;top:776.91px;font-size:9.5px;line-height:12px;letter-spacing:-0.450px;color:#1c1c1c;width:80px;text-align:center;">11 (100.0%)</div>
<div class="t" style="left:746.40px;top:776.91px;font-size:9.5px;line-height:12px;letter-spacing:-0.450px;color:#1c1c1c;width:80px;text-align:center;">40 (97.6%)</div>
<div class="t" style="left:599.00px;top:791.11px;font-size:9.5px;line-height:12px;color:#1c1c1c;">2b</div>
<div class="t" style="left:633.60px;top:791.11px;font-size:9.5px;line-height:12px;letter-spacing:-0.450px;color:#1c1c1c;width:80px;text-align:center;">1 (3.3%)</div>
<div class="t" style="left:689.60px;top:791.11px;font-size:9.5px;line-height:12px;letter-spacing:-0.450px;color:#1c1c1c;width:80px;text-align:center;">0 (0.0%)</div>
<div class="t" style="left:746.40px;top:791.11px;font-size:9.5px;line-height:12px;letter-spacing:-0.450px;color:#1c1c1c;width:80px;text-align:center;">1 (2.4%)</div>
<div class="t" style="left:1159.60px;top:442.68px;font-size:6.4px;line-height:8px;letter-spacing:-0.100px;color:#333;">HYAMS</div>
<div class="t" style="left:1159.60px;top:450.68px;font-size:6.4px;line-height:8px;letter-spacing:-0.100px;color:#333;">Stage</div>
<div class="t" style="left:1159.60px;top:458.68px;font-size:6.4px;line-height:8px;letter-spacing:-0.100px;color:#333;">Recurrence</div>
<div class="t" style="left:1159.60px;top:467.58px;font-size:6.4px;line-height:8px;letter-spacing:-0.100px;color:#333;">Origin</div>
<div class="t" style="left:1160.90px;top:508.53px;font-size:5.4px;line-height:7px;letter-spacing:-0.100px;font-weight:bold;color:#111;">HYAMS</div>
<div class="t" style="left:1160.90px;top:529.83px;font-size:5.4px;line-height:7px;letter-spacing:-0.100px;font-weight:bold;color:#111;">Stage</div>
<div class="t" style="left:1160.90px;top:551.13px;font-size:5.4px;line-height:7px;letter-spacing:-0.100px;font-weight:bold;color:#111;">Recurrence</div>
<div class="t" style="left:1160.90px;top:572.53px;font-size:5.4px;line-height:7px;letter-spacing:-0.100px;font-weight:bold;color:#111;">Origin</div>
<div class="t" style="left:1168.60px;top:516.80px;font-size:5.2px;line-height:6px;letter-spacing:-0.100px;color:#444;">I_II</div>
<div class="t" style="left:1168.60px;top:522.90px;font-size:5.2px;line-height:6px;letter-spacing:-0.100px;color:#444;">III</div>
<div class="t" style="left:1168.60px;top:537.90px;font-size:5.2px;line-height:6px;letter-spacing:-0.100px;color:#444;">I-II</div>
<div class="t" style="left:1168.60px;top:543.80px;font-size:5.2px;line-height:6px;letter-spacing:-0.100px;color:#444;">III-IV</div>
<div class="t" style="left:1168.60px;top:558.90px;font-size:5.2px;line-height:6px;letter-spacing:-0.100px;color:#444;">No</div>
<div class="t" style="left:1168.60px;top:565.00px;font-size:5.2px;line-height:6px;letter-spacing:-0.100px;color:#444;">Yes</div>
<div class="t" style="left:1168.60px;top:579.80px;font-size:5.2px;line-height:6px;letter-spacing:-0.100px;color:#444;">BS</div>
<div class="t" style="left:1168.60px;top:585.80px;font-size:5.2px;line-height:6px;letter-spacing:-0.100px;color:#444;">VA</div>
<div class="t" style="left:1211.50px;top:440.04px;font-size:4.2px;line-height:5px;letter-spacing:-0.150px;color:#444;">1.00</div>
<div class="t" style="left:1211.50px;top:462.42px;font-size:4.2px;line-height:5px;letter-spacing:-0.150px;color:#444;">0.75</div>
<div class="t" style="left:1211.50px;top:484.79px;font-size:4.2px;line-height:5px;letter-spacing:-0.150px;color:#444;">0.50</div>
<div class="t" style="left:1211.50px;top:507.17px;font-size:4.2px;line-height:5px;letter-spacing:-0.150px;color:#444;">0.25</div>
<div class="t" style="left:1211.50px;top:529.54px;font-size:4.2px;line-height:5px;letter-spacing:-0.150px;color:#444;">0.00</div>
<div class="t" style="left:1222.00px;top:537.24px;font-size:4.2px;line-height:5px;letter-spacing:-0.150px;color:#444;width:12px;text-align:center;">0</div>
<div class="t" style="left:1251.50px;top:537.24px;font-size:4.2px;line-height:5px;letter-spacing:-0.150px;color:#444;width:12px;text-align:center;">50</div>
<div class="t" style="left:1280.70px;top:537.24px;font-size:4.2px;line-height:5px;letter-spacing:-0.150px;color:#444;width:12px;text-align:center;">100</div>
<div class="t" style="left:1310.30px;top:537.24px;font-size:4.2px;line-height:5px;letter-spacing:-0.150px;color:#444;width:12px;text-align:center;">150</div>
<div class="t" style="left:1339.80px;top:537.24px;font-size:4.2px;line-height:5px;letter-spacing:-0.150px;color:#444;width:12px;text-align:center;">200</div>
<div class="t" style="left:1276.90px;top:541.81px;font-size:4.6px;line-height:6px;letter-spacing:-0.100px;color:#333;width:20px;text-align:center;">Months</div>
<div class="t" style="left:1179.90px;top:484.16px;font-size:4.6px;line-height:6px;letter-spacing:-0.150px;color:#333;width:60px;text-align:center;transform:rotate(-90deg);transform-origin:50% 50%;">Survival probability</div>
<div class="t" style="left:1230.00px;top:511.70px;font-size:5.2px;line-height:6px;letter-spacing:-0.050px;color:#333;">p = 0.0076</div>
<div class="t" style="left:1266.50px;top:428.02px;font-size:3.4px;line-height:4px;letter-spacing:-0.100px;color:#444;">Strata</div>
<div class="t" style="left:1282.00px;top:428.02px;font-size:3.4px;line-height:4px;letter-spacing:-0.100px;color:#444;">Low</div>
<div class="t" style="left:1296.50px;top:428.02px;font-size:3.4px;line-height:4px;letter-spacing:-0.100px;color:#444;">High</div>
<div class="t" style="left:1368.70px;top:439.24px;font-size:4.2px;line-height:5px;letter-spacing:-0.150px;color:#444;">1.00</div>
<div class="t" style="left:1368.70px;top:461.82px;font-size:4.2px;line-height:5px;letter-spacing:-0.150px;color:#444;">0.75</div>
<div class="t" style="left:1368.70px;top:484.39px;font-size:4.2px;line-height:5px;letter-spacing:-0.150px;color:#444;">0.50</div>
<div class="t" style="left:1368.70px;top:506.97px;font-size:4.2px;line-height:5px;letter-spacing:-0.150px;color:#444;">0.25</div>
<div class="t" style="left:1368.70px;top:529.54px;font-size:4.2px;line-height:5px;letter-spacing:-0.150px;color:#444;">0.00</div>
<div class="t" style="left:1379.30px;top:537.64px;font-size:4.2px;line-height:5px;letter-spacing:-0.150px;color:#444;width:12px;text-align:center;">0</div>
<div class="t" style="left:1409.00px;top:537.64px;font-size:4.2px;line-height:5px;letter-spacing:-0.150px;color:#444;width:12px;text-align:center;">50</div>
<div class="t" style="left:1438.20px;top:537.64px;font-size:4.2px;line-height:5px;letter-spacing:-0.150px;color:#444;width:12px;text-align:center;">100</div>
<div class="t" style="left:1467.70px;top:537.64px;font-size:4.2px;line-height:5px;letter-spacing:-0.150px;color:#444;width:12px;text-align:center;">150</div>
<div class="t" style="left:1497.30px;top:537.64px;font-size:4.2px;line-height:5px;letter-spacing:-0.150px;color:#444;width:12px;text-align:center;">200</div>
<div class="t" style="left:1434.30px;top:542.21px;font-size:4.6px;line-height:6px;letter-spacing:-0.100px;color:#333;width:20px;text-align:center;">Months</div>
<div class="t" style="left:1337.10px;top:483.76px;font-size:4.6px;line-height:6px;letter-spacing:-0.150px;color:#333;width:60px;text-align:center;transform:rotate(-90deg);transform-origin:50% 50%;">Survival probability</div>
<div class="t" style="left:1387.50px;top:511.70px;font-size:5.2px;line-height:6px;letter-spacing:-0.050px;color:#333;">p &lt; 0.0001</div>
<div class="t" style="left:1424.50px;top:427.52px;font-size:3.4px;line-height:4px;letter-spacing:-0.100px;color:#444;">Strata</div>
<div class="t" style="left:1440.00px;top:427.52px;font-size:3.4px;line-height:4px;letter-spacing:-0.100px;color:#444;">Low</div>
<div class="t" style="left:1454.50px;top:427.52px;font-size:3.4px;line-height:4px;letter-spacing:-0.100px;color:#444;">High</div>
<div class="t" style="left:1213.20px;top:577.04px;font-size:4.2px;line-height:5px;letter-spacing:-0.150px;color:#444;">1.00</div>
<div class="t" style="left:1213.20px;top:597.49px;font-size:4.2px;line-height:5px;letter-spacing:-0.150px;color:#444;">0.75</div>
<div class="t" style="left:1213.20px;top:617.94px;font-size:4.2px;line-height:5px;letter-spacing:-0.150px;color:#444;">0.50</div>
<div class="t" style="left:1213.20px;top:638.39px;font-size:4.2px;line-height:5px;letter-spacing:-0.150px;color:#444;">0.25</div>
<div class="t" style="left:1213.20px;top:658.84px;font-size:4.2px;line-height:5px;letter-spacing:-0.150px;color:#444;">0.00</div>
<div class="t" style="left:1223.70px;top:665.94px;font-size:4.2px;line-height:5px;letter-spacing:-0.150px;color:#444;width:12px;text-align:center;">0</div>
<div class="t" style="left:1253.20px;top:665.94px;font-size:4.2px;line-height:5px;letter-spacing:-0.150px;color:#444;width:12px;text-align:center;">50</div>
<div class="t" style="left:1282.70px;top:665.94px;font-size:4.2px;line-height:5px;letter-spacing:-0.150px;color:#444;width:12px;text-align:center;">100</div>
<div class="t" style="left:1312.00px;top:665.94px;font-size:4.2px;line-height:5px;letter-spacing:-0.150px;color:#444;width:12px;text-align:center;">150</div>
<div class="t" style="left:1341.50px;top:665.94px;font-size:4.2px;line-height:5px;letter-spacing:-0.150px;color:#444;width:12px;text-align:center;">200</div>
<div class="t" style="left:1278.60px;top:670.51px;font-size:4.6px;line-height:6px;letter-spacing:-0.100px;color:#333;width:20px;text-align:center;">Months</div>
<div class="t" style="left:1181.60px;top:617.31px;font-size:4.6px;line-height:6px;letter-spacing:-0.150px;color:#333;width:60px;text-align:center;transform:rotate(-90deg);transform-origin:50% 50%;">Survival probability</div>
<div class="t" style="left:1232.00px;top:642.60px;font-size:5.2px;line-height:6px;letter-spacing:-0.050px;color:#333;">p = 0.0052</div>
<div class="t" style="left:1269.00px;top:565.52px;font-size:3.4px;line-height:4px;letter-spacing:-0.100px;color:#444;">Strata</div>
<div class="t" style="left:1284.50px;top:565.52px;font-size:3.4px;line-height:4px;letter-spacing:-0.100px;color:#444;">Low</div>
<div class="t" style="left:1299.00px;top:565.52px;font-size:3.4px;line-height:4px;letter-spacing:-0.100px;color:#444;">High</div>
<div class="t" style="left:1369.30px;top:577.04px;font-size:4.2px;line-height:5px;letter-spacing:-0.150px;color:#444;">1.00</div>
<div class="t" style="left:1369.30px;top:597.49px;font-size:4.2px;line-height:5px;letter-spacing:-0.150px;color:#444;">0.75</div>
<div class="t" style="left:1369.30px;top:617.94px;font-size:4.2px;line-height:5px;letter-spacing:-0.150px;color:#444;">0.50</div>
<div class="t" style="left:1369.30px;top:638.39px;font-size:4.2px;line-height:5px;letter-spacing:-0.150px;color:#444;">0.25</div>
<div class="t" style="left:1369.30px;top:658.84px;font-size:4.2px;line-height:5px;letter-spacing:-0.150px;color:#444;">0.00</div>
<div class="t" style="left:1379.80px;top:665.94px;font-size:4.2px;line-height:5px;letter-spacing:-0.150px;color:#444;width:12px;text-align:center;">0</div>
<div class="t" style="left:1409.30px;top:665.94px;font-size:4.2px;line-height:5px;letter-spacing:-0.150px;color:#444;width:12px;text-align:center;">50</div>
<div class="t" style="left:1438.70px;top:665.94px;font-size:4.2px;line-height:5px;letter-spacing:-0.150px;color:#444;width:12px;text-align:center;">100</div>
<div class="t" style="left:1468.20px;top:665.94px;font-size:4.2px;line-height:5px;letter-spacing:-0.150px;color:#444;width:12px;text-align:center;">150</div>
<div class="t" style="left:1497.30px;top:665.94px;font-size:4.2px;line-height:5px;letter-spacing:-0.150px;color:#444;width:12px;text-align:center;">200</div>
<div class="t" style="left:1434.55px;top:670.51px;font-size:4.6px;line-height:6px;letter-spacing:-0.100px;color:#333;width:20px;text-align:center;">Months</div>
<div class="t" style="left:1337.70px;top:617.31px;font-size:4.6px;line-height:6px;letter-spacing:-0.150px;color:#333;width:60px;text-align:center;transform:rotate(-90deg);transform-origin:50% 50%;">Survival probability</div>
<div class="t" style="left:1388.00px;top:642.60px;font-size:5.2px;line-height:6px;letter-spacing:-0.050px;color:#333;">p &lt; 0.0001</div>
<div class="t" style="left:1425.00px;top:565.52px;font-size:3.4px;line-height:4px;letter-spacing:-0.100px;color:#444;">Strata</div>
<div class="t" style="left:1440.50px;top:565.52px;font-size:3.4px;line-height:4px;letter-spacing:-0.100px;color:#444;">Low</div>
<div class="t" style="left:1455.00px;top:565.52px;font-size:3.4px;line-height:4px;letter-spacing:-0.100px;color:#444;">High</div>
</body></html>
